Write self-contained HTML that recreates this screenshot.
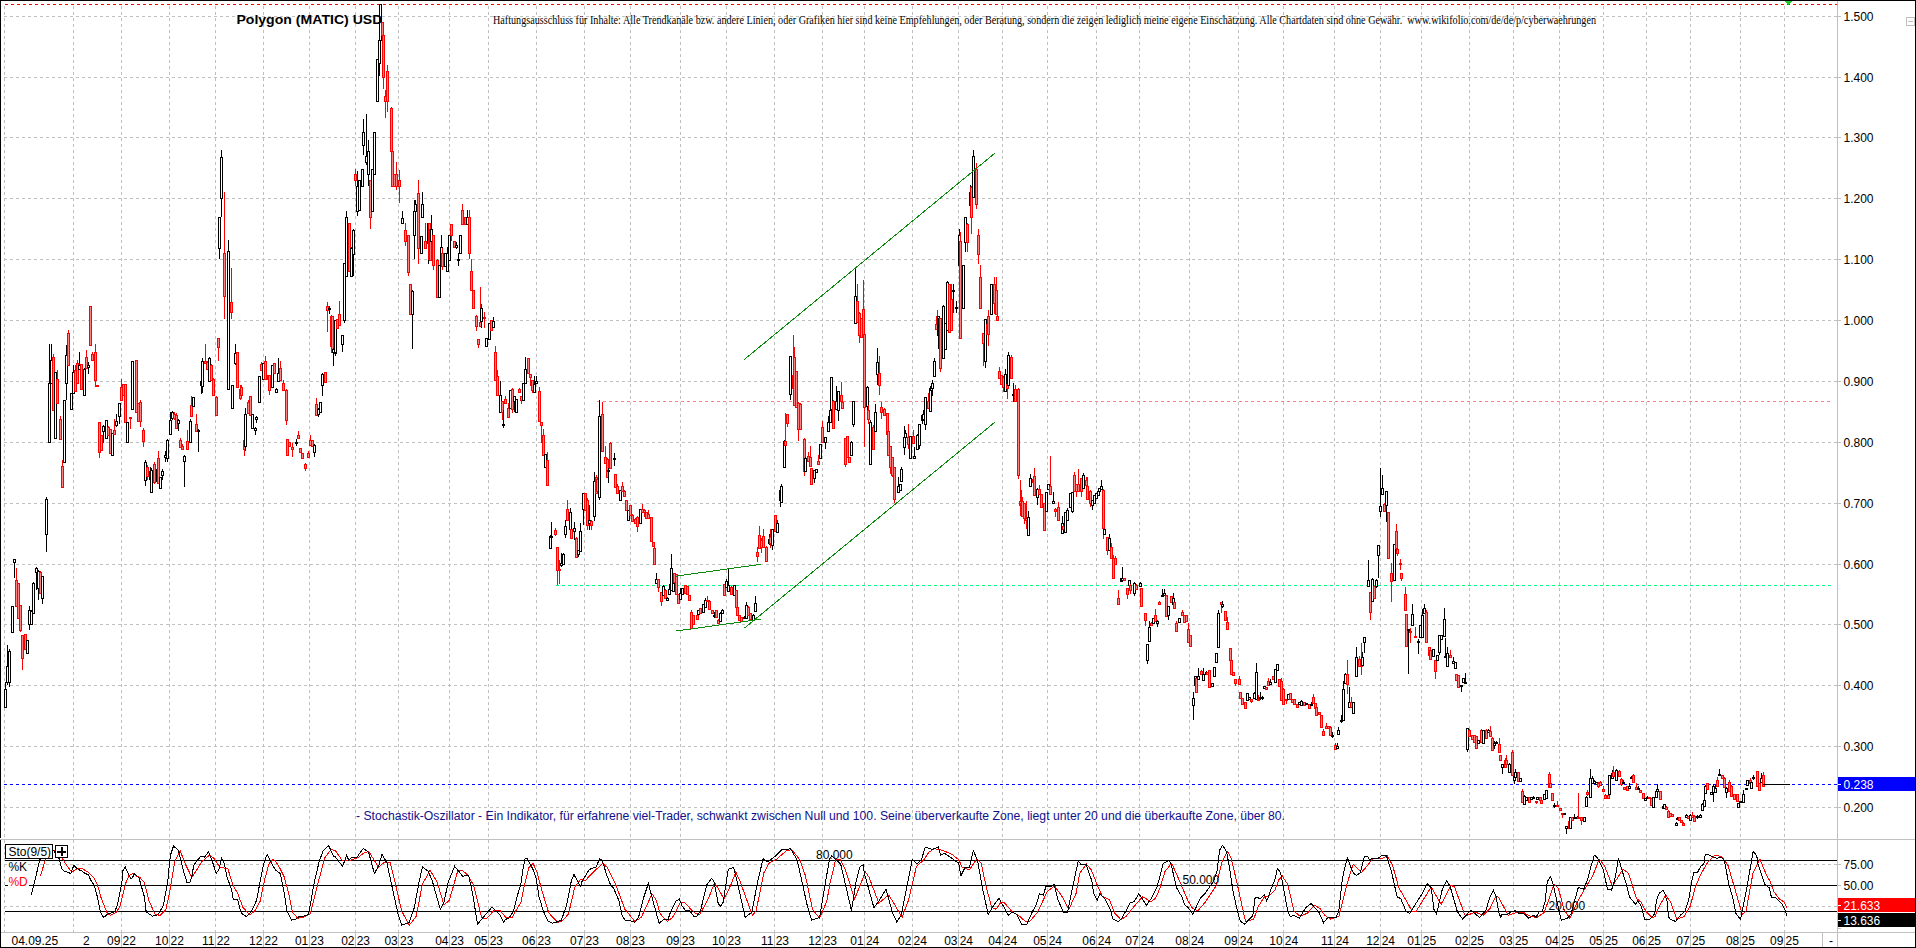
<!DOCTYPE html>
<html><head><meta charset="utf-8"><style>html,body{margin:0;padding:0;background:#fff;width:1916px;height:948px;overflow:hidden}svg{display:block}</style></head>
<body><svg width="1916" height="948" viewBox="0 0 1916 948" shape-rendering="crispEdges">
<path d="M4 16.5H1837 M4 77.5H1837 M4 137.5H1837 M4 198.5H1837 M4 259.5H1837 M4 320.5H1837 M4 381.5H1837 M4 442.5H1837 M4 503.5H1837 M4 564.5H1837 M4 624.5H1837 M4 685.5H1837 M4 746.5H1837 M4 807.5H1837" stroke="#c0c0c0" stroke-width="1" stroke-dasharray="3 3" fill="none"/>
<path d="M4.5 6V932 M73.5 6V932 M121.5 6V932 M169.5 6V932 M215.5 6V932 M263.5 6V932 M309.5 6V932 M355.5 6V932 M398.5 6V932 M449.5 6V932 M488.5 6V932 M536.5 6V932 M584.5 6V932 M630.5 6V932 M680.5 6V932 M726.5 6V932 M774.5 6V932 M822.5 6V932 M864.5 6V932 M912.5 6V932 M958.5 6V932 M1002.5 6V932 M1047.5 6V932 M1096.5 6V932 M1139.5 6V932 M1189.5 6V932 M1238.5 6V932 M1283.5 6V932 M1334.5 6V932 M1380.5 6V932 M1421.5 6V932 M1469.5 6V932 M1513.5 6V932 M1559.5 6V932 M1603.5 6V932 M1646.5 6V932 M1690.5 6V932 M1740.5 6V932 M1784.5 6V932" stroke="#c0c0c0" stroke-width="1" stroke-dasharray="3 3" fill="none"/>
<path d="M4 864.5H1837M4 906.5H1837" stroke="#c0c0c0" stroke-width="1" stroke-dasharray="3 3" fill="none"/>
<path d="M5 4.5H1837" stroke="#ff0000" stroke-width="1" stroke-dasharray="3 3" fill="none"/>
<path d="M597 401.5H1832" stroke="#ff8080" stroke-width="1" stroke-dasharray="3 3" fill="none"/>
<path d="M556 585.5H1832" stroke="#00ff80" stroke-width="1" stroke-dasharray="3 3" fill="none"/>
<path d="M4 784.5H1837" stroke="#0000ff" stroke-width="1" stroke-dasharray="3 3" fill="none"/>
<g><path d="M5.5 682V708" stroke="#000"/><rect x="4.5" y="689.5" width="2" height="18" fill="#fff" stroke="#000"/><path d="M7.5 645V685" stroke="#000"/><rect x="6.5" y="666.5" width="2" height="16" fill="#fff" stroke="#000"/><path d="M9.5 649V687" stroke="#000"/><rect x="8.5" y="651.5" width="2" height="31" fill="#fff" stroke="#000"/><path d="M12.5 606V632" stroke="#000"/><rect x="11.5" y="606.5" width="2" height="26" fill="#fff" stroke="#000"/><path d="M14.5 559V578" stroke="#000"/><rect x="13.5" y="559.5" width="2" height="3" fill="#fff" stroke="#000"/><path d="M16.5 568V607" stroke="#f00"/><rect x="15.5" y="580.5" width="2" height="26" fill="#ff8080" stroke="#f00"/><path d="M18.5 583V618" stroke="#f00"/><rect x="17.5" y="583.5" width="2" height="35" fill="#ff8080" stroke="#f00"/><path d="M20.5 605V632" stroke="#f00"/><rect x="19.5" y="605.5" width="2" height="25" fill="#ff8080" stroke="#f00"/><path d="M22.5 635V670" stroke="#f00"/><rect x="21.5" y="635.5" width="2" height="23" fill="#ff8080" stroke="#f00"/><path d="M25.5 634V649" stroke="#f00"/><rect x="24.5" y="634.5" width="2" height="15" fill="#ff8080" stroke="#f00"/><path d="M27.5 640V653" stroke="#000"/><rect x="26.5" y="640.5" width="2" height="13" fill="#fff" stroke="#000"/><path d="M29.5 606V630" stroke="#000"/><rect x="28.5" y="610.5" width="2" height="14" fill="#fff" stroke="#000"/><path d="M31.5 610V624" stroke="#000"/><rect x="30.5" y="611.5" width="2" height="13" fill="#fff" stroke="#000"/><path d="M33.5 582V613" stroke="#000"/><rect x="32.5" y="583.5" width="2" height="30" fill="#fff" stroke="#000"/><path d="M36.5 567V590" stroke="#000"/><rect x="35.5" y="568.5" width="2" height="4" fill="#fff" stroke="#000"/><path d="M38.5 570V600" stroke="#000"/><rect x="37.5" y="571.5" width="2" height="17" fill="#fff" stroke="#000"/><path d="M40.5 571V593" stroke="#f00"/><rect x="39.5" y="572.5" width="2" height="21" fill="#ff8080" stroke="#f00"/><path d="M42.5 576V604" stroke="#000"/><rect x="41.5" y="576.5" width="2" height="22" fill="#fff" stroke="#000"/><path d="M46.5 497V552" stroke="#000"/><rect x="45.5" y="499.5" width="2" height="35" fill="#fff" stroke="#000"/><path d="M49.5 344V442" stroke="#000"/><rect x="48.5" y="383.5" width="2" height="59" fill="#fff" stroke="#000"/><path d="M51.5 344V383" stroke="#000"/><rect x="50.5" y="360.5" width="2" height="23" fill="#fff" stroke="#000"/><path d="M53.5 354V410" stroke="#f00"/><rect x="52.5" y="357.5" width="2" height="53" fill="#ff8080" stroke="#f00"/><path d="M55.5 372V438" stroke="#000"/><rect x="54.5" y="372.5" width="2" height="66" fill="#fff" stroke="#000"/><path d="M57.5 370V403" stroke="#f00"/><rect x="56.5" y="379.5" width="2" height="24" fill="#ff8080" stroke="#f00"/><path d="M60.5 416V439" stroke="#f00"/><rect x="59.5" y="419.5" width="2" height="20" fill="#ff8080" stroke="#f00"/><path d="M62.5 460V487" stroke="#f00"/><rect x="61.5" y="466.5" width="2" height="21" fill="#ff8080" stroke="#f00"/><path d="M64.5 400V462" stroke="#000"/><rect x="63.5" y="400.5" width="2" height="62" fill="#fff" stroke="#000"/><path d="M66.5 345V400" stroke="#000"/><rect x="65.5" y="355.5" width="2" height="28" fill="#fff" stroke="#000"/><path d="M68.5 330V365" stroke="#f00"/><rect x="67.5" y="333.5" width="2" height="32" fill="#ff8080" stroke="#f00"/><path d="M71.5 393V409" stroke="#000"/><rect x="70.5" y="393.5" width="2" height="16" fill="#fff" stroke="#000"/><path d="M73.5 365V393" stroke="#000"/><rect x="72.5" y="372.5" width="2" height="21" fill="#fff" stroke="#000"/><path d="M75.5 365V391" stroke="#f00"/><rect x="74.5" y="370.5" width="2" height="21" fill="#ff8080" stroke="#f00"/><path d="M77.5 360V383" stroke="#f00"/><rect x="76.5" y="363.5" width="2" height="20" fill="#ff8080" stroke="#f00"/><path d="M79.5 352V370" stroke="#000"/><rect x="78.5" y="365.5" width="2" height="4" fill="#fff" stroke="#000"/><path d="M81.5 364V389" stroke="#f00"/><rect x="80.5" y="364.5" width="2" height="25" fill="#ff8080" stroke="#f00"/><path d="M84.5 368V395" stroke="#000"/><rect x="83.5" y="369.5" width="2" height="26" fill="#fff" stroke="#000"/><path d="M86.5 350V368" stroke="#f00"/><rect x="85.5" y="357.5" width="2" height="11" fill="#ff8080" stroke="#f00"/><path d="M88.5 362V374" stroke="#000"/><rect x="87.5" y="365.5" width="2" height="2" fill="#fff" stroke="#000"/><path d="M90.5 306V345" stroke="#f00"/><rect x="89.5" y="306.5" width="2" height="39" fill="#ff8080" stroke="#f00"/><path d="M92.5 352V360" stroke="#f00"/><rect x="91.5" y="354.5" width="2" height="6" fill="#ff8080" stroke="#f00"/><path d="M95.5 344V387" stroke="#f00"/><rect x="94.5" y="352.5" width="2" height="28" fill="#ff8080" stroke="#f00"/><path d="M97.5 385V386" stroke="#f00"/><rect x="96.5" y="385.5" width="2" height="1" fill="#ff8080" stroke="#f00"/><path d="M99.5 422V458" stroke="#f00"/><rect x="98.5" y="422.5" width="2" height="30" fill="#ff8080" stroke="#f00"/><path d="M101.5 435V450" stroke="#f00"/><rect x="100.5" y="435.5" width="2" height="15" fill="#ff8080" stroke="#f00"/><path d="M103.5 425V443" stroke="#000"/><rect x="102.5" y="426.5" width="2" height="5" fill="#fff" stroke="#000"/><path d="M106.5 420V438" stroke="#000"/><rect x="105.5" y="420.5" width="2" height="18" fill="#fff" stroke="#000"/><path d="M108.5 426V435" stroke="#f00"/><rect x="107.5" y="427.5" width="2" height="8" fill="#ff8080" stroke="#f00"/><path d="M110.5 429V453" stroke="#f00"/><rect x="109.5" y="429.5" width="2" height="24" fill="#ff8080" stroke="#f00"/><path d="M112.5 433V455" stroke="#000"/><rect x="111.5" y="433.5" width="2" height="22" fill="#fff" stroke="#000"/><path d="M114.5 419V435" stroke="#f00"/><rect x="113.5" y="430.5" width="2" height="4" fill="#ff8080" stroke="#f00"/><path d="M116.5 414V427" stroke="#000"/><rect x="115.5" y="421.5" width="2" height="4" fill="#fff" stroke="#000"/><path d="M119.5 403V424" stroke="#000"/><rect x="118.5" y="403.5" width="2" height="13" fill="#fff" stroke="#000"/><path d="M121.5 379V400" stroke="#f00"/><rect x="120.5" y="387.5" width="2" height="13" fill="#ff8080" stroke="#f00"/><path d="M123.5 384V395" stroke="#f00"/><rect x="122.5" y="384.5" width="2" height="11" fill="#ff8080" stroke="#f00"/><path d="M125.5 384V422" stroke="#f00"/><rect x="124.5" y="384.5" width="2" height="38" fill="#ff8080" stroke="#f00"/><path d="M127.5 422V442" stroke="#000"/><rect x="126.5" y="422.5" width="2" height="20" fill="#fff" stroke="#000"/><path d="M130.5 417V429" stroke="#f00"/><rect x="129.5" y="417.5" width="2" height="1" fill="#ff8080" stroke="#f00"/><path d="M132.5 361V409" stroke="#000"/><rect x="131.5" y="361.5" width="2" height="48" fill="#fff" stroke="#000"/><path d="M136.5 360V412" stroke="#f00"/><rect x="135.5" y="360.5" width="2" height="52" fill="#ff8080" stroke="#f00"/><path d="M138.5 403V421" stroke="#f00"/><rect x="137.5" y="403.5" width="2" height="18" fill="#ff8080" stroke="#f00"/><path d="M140.5 400V427" stroke="#f00"/><rect x="139.5" y="402.5" width="2" height="19" fill="#ff8080" stroke="#f00"/><path d="M143.5 428V447" stroke="#f00"/><rect x="142.5" y="430.5" width="2" height="11" fill="#ff8080" stroke="#f00"/><path d="M145.5 460V486" stroke="#000"/><rect x="144.5" y="462.5" width="2" height="18" fill="#fff" stroke="#000"/><path d="M147.5 465V480" stroke="#f00"/><rect x="146.5" y="467.5" width="2" height="9" fill="#ff8080" stroke="#f00"/><path d="M150.5 467V483" stroke="#000"/><rect x="149.5" y="471.5" width="2" height="8" fill="#fff" stroke="#000"/><path d="M151.5 468V492" stroke="#000"/><rect x="150.5" y="470.5" width="2" height="22" fill="#fff" stroke="#000"/><path d="M154.5 462V484" stroke="#f00"/><rect x="153.5" y="464.5" width="2" height="18" fill="#ff8080" stroke="#f00"/><path d="M157.5 467V484" stroke="#000"/><rect x="156.5" y="469.5" width="2" height="12" fill="#fff" stroke="#000"/><path d="M158.5 451V483" stroke="#f00"/><rect x="157.5" y="458.5" width="2" height="25" fill="#ff8080" stroke="#f00"/><path d="M160.5 477V488" stroke="#000"/><rect x="159.5" y="477.5" width="2" height="11" fill="#fff" stroke="#000"/><path d="M162.5 469V480" stroke="#000"/><rect x="161.5" y="471.5" width="2" height="4" fill="#fff" stroke="#000"/><path d="M165.5 451V462" stroke="#000"/><rect x="164.5" y="455.5" width="2" height="2" fill="#fff" stroke="#000"/><path d="M167.5 439V462" stroke="#000"/><rect x="166.5" y="440.5" width="2" height="18" fill="#fff" stroke="#000"/><path d="M170.5 412V435" stroke="#000"/><rect x="169.5" y="420.5" width="2" height="14" fill="#fff" stroke="#000"/><path d="M172.5 411V420" stroke="#000"/><rect x="171.5" y="412.5" width="2" height="6" fill="#fff" stroke="#000"/><path d="M174.5 412V420" stroke="#f00"/><rect x="173.5" y="414.5" width="2" height="4" fill="#ff8080" stroke="#f00"/><path d="M176.5 413V428" stroke="#f00"/><rect x="175.5" y="415.5" width="2" height="13" fill="#ff8080" stroke="#f00"/><path d="M178.5 419V431" stroke="#000"/><rect x="177.5" y="420.5" width="2" height="3" fill="#fff" stroke="#000"/><path d="M180.5 438V448" stroke="#f00"/><rect x="179.5" y="440.5" width="2" height="7" fill="#ff8080" stroke="#f00"/><path d="M182.5 444V449" stroke="#f00"/><rect x="181.5" y="446.5" width="2" height="3" fill="#ff8080" stroke="#f00"/><path d="M184.5 455V487" stroke="#000"/><rect x="183.5" y="456.5" width="2" height="5" fill="#fff" stroke="#000"/><path d="M187.5 430V449" stroke="#f00"/><rect x="186.5" y="441.5" width="2" height="8" fill="#ff8080" stroke="#f00"/><path d="M190.5 419V442" stroke="#000"/><rect x="189.5" y="421.5" width="2" height="21" fill="#fff" stroke="#000"/><path d="M191.5 396V416" stroke="#f00"/><rect x="190.5" y="405.5" width="2" height="11" fill="#ff8080" stroke="#f00"/><path d="M193.5 397V406" stroke="#000"/><rect x="192.5" y="397.5" width="2" height="9" fill="#fff" stroke="#000"/><path d="M196.5 414V431" stroke="#f00"/><rect x="195.5" y="424.5" width="2" height="7" fill="#ff8080" stroke="#f00"/><path d="M198.5 429V452" stroke="#000"/><rect x="197.5" y="430.5" width="2" height="1" fill="#fff" stroke="#000"/><path d="M201.5 380V394" stroke="#000"/><rect x="200.5" y="381.5" width="2" height="4" fill="#fff" stroke="#000"/><path d="M202.5 358V393" stroke="#000"/><rect x="201.5" y="361.5" width="2" height="25" fill="#fff" stroke="#000"/><path d="M205.5 344V363" stroke="#f00"/><rect x="204.5" y="361.5" width="2" height="2" fill="#ff8080" stroke="#f00"/><path d="M207.5 361V369" stroke="#f00"/><rect x="206.5" y="362.5" width="2" height="7" fill="#ff8080" stroke="#f00"/><path d="M209.5 357V381" stroke="#000"/><rect x="208.5" y="358.5" width="2" height="23" fill="#fff" stroke="#000"/><path d="M211.5 364V380" stroke="#f00"/><rect x="210.5" y="365.5" width="2" height="15" fill="#ff8080" stroke="#f00"/><path d="M213.5 378V395" stroke="#f00"/><rect x="212.5" y="379.5" width="2" height="16" fill="#ff8080" stroke="#f00"/><path d="M216.5 396V415" stroke="#f00"/><rect x="215.5" y="397.5" width="2" height="18" fill="#ff8080" stroke="#f00"/><path d="M218.5 338V361" stroke="#f00"/><rect x="217.5" y="338.5" width="2" height="9" fill="#ff8080" stroke="#f00"/><path d="M219.5 217V259" stroke="#000"/><rect x="218.5" y="217.5" width="2" height="31" fill="#fff" stroke="#000"/><path d="M221.5 150V217" stroke="#000"/><rect x="220.5" y="157.5" width="2" height="41" fill="#fff" stroke="#000"/><path d="M224.5 192V319" stroke="#f00"/><rect x="223.5" y="253.5" width="2" height="43" fill="#ff8080" stroke="#f00"/><path d="M228.5 240V389" stroke="#000"/><rect x="227.5" y="251.5" width="2" height="138" fill="#fff" stroke="#000"/><path d="M231.5 268V319" stroke="#f00"/><rect x="230.5" y="302.5" width="2" height="10" fill="#ff8080" stroke="#f00"/><path d="M232.5 385V408" stroke="#000"/><rect x="231.5" y="385.5" width="2" height="23" fill="#fff" stroke="#000"/><path d="M235.5 344V365" stroke="#000"/><rect x="234.5" y="353.5" width="2" height="10" fill="#fff" stroke="#000"/><path d="M237.5 352V387" stroke="#f00"/><rect x="236.5" y="352.5" width="2" height="35" fill="#ff8080" stroke="#f00"/><path d="M240.5 385V400" stroke="#f00"/><rect x="239.5" y="389.5" width="2" height="9" fill="#ff8080" stroke="#f00"/><path d="M241.5 385V395" stroke="#f00"/><rect x="240.5" y="387.5" width="2" height="8" fill="#ff8080" stroke="#f00"/><path d="M244.5 434V456" stroke="#f00"/><rect x="243.5" y="440.5" width="2" height="9" fill="#ff8080" stroke="#f00"/><path d="M245.5 408V451" stroke="#000"/><rect x="244.5" y="414.5" width="2" height="32" fill="#fff" stroke="#000"/><path d="M248.5 400V413" stroke="#f00"/><rect x="247.5" y="402.5" width="2" height="11" fill="#ff8080" stroke="#f00"/><path d="M250.5 396V415" stroke="#f00"/><rect x="249.5" y="396.5" width="2" height="19" fill="#ff8080" stroke="#f00"/><path d="M252.5 414V428" stroke="#000"/><rect x="251.5" y="414.5" width="2" height="14" fill="#fff" stroke="#000"/><path d="M255.5 427V435" stroke="#000"/><rect x="254.5" y="428.5" width="2" height="2" fill="#fff" stroke="#000"/><path d="M256.5 416V423" stroke="#000"/><rect x="255.5" y="417.5" width="2" height="2" fill="#fff" stroke="#000"/><path d="M259.5 376V402" stroke="#000"/><rect x="258.5" y="376.5" width="2" height="26" fill="#fff" stroke="#000"/><path d="M261.5 362V370" stroke="#f00"/><rect x="260.5" y="364.5" width="2" height="6" fill="#ff8080" stroke="#f00"/><path d="M263.5 363V379" stroke="#000"/><rect x="262.5" y="363.5" width="2" height="16" fill="#fff" stroke="#000"/><path d="M265.5 356V379" stroke="#f00"/><rect x="264.5" y="361.5" width="2" height="18" fill="#ff8080" stroke="#f00"/><path d="M268.5 375V379" stroke="#f00"/><rect x="267.5" y="375.5" width="2" height="4" fill="#ff8080" stroke="#f00"/><path d="M269.5 375V395" stroke="#f00"/><rect x="268.5" y="375.5" width="2" height="15" fill="#ff8080" stroke="#f00"/><path d="M272.5 365V387" stroke="#000"/><rect x="271.5" y="365.5" width="2" height="22" fill="#fff" stroke="#000"/><path d="M274.5 363V373" stroke="#f00"/><rect x="273.5" y="363.5" width="2" height="10" fill="#ff8080" stroke="#f00"/><path d="M276.5 388V392" stroke="#000"/><rect x="275.5" y="389.5" width="2" height="3" fill="#fff" stroke="#000"/><path d="M278.5 358V381" stroke="#000"/><rect x="277.5" y="373.5" width="2" height="8" fill="#fff" stroke="#000"/><path d="M280.5 361V380" stroke="#f00"/><rect x="279.5" y="368.5" width="2" height="12" fill="#ff8080" stroke="#f00"/><path d="M283.5 380V390" stroke="#f00"/><rect x="282.5" y="383.5" width="2" height="7" fill="#ff8080" stroke="#f00"/><path d="M286.5 389V425" stroke="#f00"/><rect x="285.5" y="390.5" width="2" height="30" fill="#ff8080" stroke="#f00"/><path d="M287.5 439V455" stroke="#f00"/><rect x="286.5" y="439.5" width="2" height="16" fill="#ff8080" stroke="#f00"/><path d="M289.5 442V446" stroke="#f00"/><rect x="288.5" y="442.5" width="2" height="4" fill="#ff8080" stroke="#f00"/><path d="M292.5 443V457" stroke="#f00"/><rect x="291.5" y="447.5" width="2" height="2" fill="#ff8080" stroke="#f00"/><path d="M296.5 439V446" stroke="#000"/><rect x="295.5" y="442.5" width="2" height="1" fill="#fff" stroke="#000"/><path d="M298.5 431V438" stroke="#f00"/><rect x="297.5" y="435.5" width="2" height="3" fill="#ff8080" stroke="#f00"/><path d="M300.5 448V452" stroke="#f00"/><rect x="299.5" y="448.5" width="2" height="4" fill="#ff8080" stroke="#f00"/><path d="M302.5 453V458" stroke="#f00"/><rect x="301.5" y="453.5" width="2" height="5" fill="#ff8080" stroke="#f00"/><path d="M305.5 463V471" stroke="#f00"/><rect x="304.5" y="464.5" width="2" height="4" fill="#ff8080" stroke="#f00"/><path d="M308.5 451V457" stroke="#f00"/><rect x="307.5" y="453.5" width="2" height="4" fill="#ff8080" stroke="#f00"/><path d="M310.5 435V445" stroke="#f00"/><rect x="309.5" y="440.5" width="2" height="5" fill="#ff8080" stroke="#f00"/><path d="M312.5 440V446" stroke="#f00"/><rect x="311.5" y="440.5" width="2" height="6" fill="#ff8080" stroke="#f00"/><path d="M314.5 444V457" stroke="#000"/><rect x="313.5" y="445.5" width="2" height="7" fill="#fff" stroke="#000"/><path d="M316.5 398V415" stroke="#f00"/><rect x="315.5" y="404.5" width="2" height="11" fill="#ff8080" stroke="#f00"/><path d="M318.5 408V417" stroke="#000"/><rect x="317.5" y="409.5" width="2" height="5" fill="#fff" stroke="#000"/><path d="M320.5 402V412" stroke="#000"/><rect x="319.5" y="402.5" width="2" height="10" fill="#fff" stroke="#000"/><path d="M322.5 373V396" stroke="#000"/><rect x="321.5" y="374.5" width="2" height="11" fill="#fff" stroke="#000"/><path d="M325.5 372V382" stroke="#f00"/><rect x="324.5" y="372.5" width="2" height="10" fill="#ff8080" stroke="#f00"/><path d="M327.5 302V332" stroke="#f00"/><rect x="326.5" y="306.5" width="2" height="4" fill="#ff8080" stroke="#f00"/><path d="M329.5 306V314" stroke="#000"/><rect x="328.5" y="308.5" width="2" height="1" fill="#fff" stroke="#000"/><path d="M331.5 315V346" stroke="#f00"/><rect x="330.5" y="316.5" width="2" height="30" fill="#ff8080" stroke="#f00"/><path d="M332.5 316V352" stroke="#f00"/><rect x="331.5" y="316.5" width="2" height="36" fill="#ff8080" stroke="#f00"/><path d="M333.5 349V365" stroke="#000"/><rect x="332.5" y="350.5" width="2" height="2" fill="#fff" stroke="#000"/><path d="M333.5 348V366" stroke="#000"/><rect x="332.5" y="349.5" width="2" height="3" fill="#fff" stroke="#000"/><path d="M335.5 320V353" stroke="#000"/><rect x="334.5" y="320.5" width="2" height="33" fill="#fff" stroke="#000"/><path d="M335.5 320V356" stroke="#000"/><rect x="334.5" y="320.5" width="2" height="32" fill="#fff" stroke="#000"/><path d="M337.5 319V328" stroke="#f00"/><rect x="336.5" y="319.5" width="2" height="9" fill="#ff8080" stroke="#f00"/><path d="M339.5 301V325" stroke="#f00"/><rect x="338.5" y="314.5" width="2" height="11" fill="#ff8080" stroke="#f00"/><path d="M342.5 335V352" stroke="#000"/><rect x="341.5" y="335.5" width="2" height="9" fill="#fff" stroke="#000"/><path d="M344.5 263V323" stroke="#000"/><rect x="343.5" y="263.5" width="2" height="57" fill="#fff" stroke="#000"/><path d="M346.5 211V276" stroke="#000"/><rect x="345.5" y="217.5" width="2" height="59" fill="#fff" stroke="#000"/><path d="M349.5 223V271" stroke="#f00"/><rect x="348.5" y="223.5" width="2" height="48" fill="#ff8080" stroke="#f00"/><path d="M351.5 247V276" stroke="#000"/><rect x="350.5" y="248.5" width="2" height="28" fill="#fff" stroke="#000"/><path d="M353.5 229V276" stroke="#000"/><rect x="352.5" y="230.5" width="2" height="24" fill="#fff" stroke="#000"/><path d="M355.5 169V186" stroke="#f00"/><rect x="354.5" y="174.5" width="2" height="6" fill="#ff8080" stroke="#f00"/><path d="M357.5 171V216" stroke="#000"/><rect x="356.5" y="186.5" width="2" height="25" fill="#fff" stroke="#000"/><path d="M359.5 180V210" stroke="#000"/><rect x="358.5" y="180.5" width="2" height="30" fill="#fff" stroke="#000"/><path d="M362.5 169V186" stroke="#000"/><rect x="361.5" y="169.5" width="2" height="17" fill="#fff" stroke="#000"/><path d="M363.5 119V155" stroke="#000"/><rect x="362.5" y="132.5" width="2" height="13" fill="#fff" stroke="#000"/><path d="M366.5 114V165" stroke="#000"/><rect x="365.5" y="156.5" width="2" height="6" fill="#fff" stroke="#000"/><path d="M368.5 140V186" stroke="#000"/><rect x="367.5" y="151.5" width="2" height="23" fill="#fff" stroke="#000"/><path d="M370.5 180V229" stroke="#f00"/><rect x="369.5" y="180.5" width="2" height="37" fill="#ff8080" stroke="#f00"/><path d="M372.5 169V211" stroke="#000"/><rect x="371.5" y="169.5" width="2" height="42" fill="#fff" stroke="#000"/><path d="M374.5 132V174" stroke="#000"/><rect x="373.5" y="132.5" width="2" height="42" fill="#fff" stroke="#000"/><path d="M377.5 59V101" stroke="#000"/><rect x="376.5" y="59.5" width="2" height="42" fill="#fff" stroke="#000"/><path d="M379.5 4V76" stroke="#000"/><rect x="378.5" y="40.5" width="2" height="23" fill="#fff" stroke="#000"/><path d="M380.5 4V40" stroke="#000"/><rect x="379.5" y="4.5" width="2" height="36" fill="#fff" stroke="#000"/><path d="M382.5 22V35" stroke="#f00"/><rect x="381.5" y="22.5" width="2" height="13" fill="#ff8080" stroke="#f00"/><path d="M383.5 35V89" stroke="#f00"/><rect x="382.5" y="35.5" width="2" height="42" fill="#ff8080" stroke="#f00"/><path d="M385.5 90V118" stroke="#f00"/><rect x="384.5" y="96.5" width="2" height="5" fill="#ff8080" stroke="#f00"/><path d="M387.5 65V112" stroke="#f00"/><rect x="386.5" y="71.5" width="2" height="30" fill="#ff8080" stroke="#f00"/><path d="M391.5 107V151" stroke="#f00"/><rect x="390.5" y="108.5" width="2" height="43" fill="#ff8080" stroke="#f00"/><path d="M392.5 151V186" stroke="#f00"/><rect x="391.5" y="151.5" width="2" height="35" fill="#ff8080" stroke="#f00"/><path d="M394.5 174V186" stroke="#f00"/><rect x="393.5" y="174.5" width="2" height="12" fill="#ff8080" stroke="#f00"/><path d="M396.5 162V190" stroke="#f00"/><rect x="395.5" y="174.5" width="2" height="12" fill="#ff8080" stroke="#f00"/><path d="M399.5 170V203" stroke="#f00"/><rect x="398.5" y="180.5" width="2" height="6" fill="#ff8080" stroke="#f00"/><path d="M402.5 211V223" stroke="#000"/><rect x="401.5" y="218.5" width="2" height="5" fill="#fff" stroke="#000"/><path d="M405.5 223V246" stroke="#f00"/><rect x="404.5" y="230.5" width="2" height="11" fill="#ff8080" stroke="#f00"/><path d="M408.5 235V276" stroke="#f00"/><rect x="407.5" y="235.5" width="2" height="37" fill="#ff8080" stroke="#f00"/><path d="M410.5 284V314" stroke="#f00"/><rect x="409.5" y="284.5" width="2" height="30" fill="#ff8080" stroke="#f00"/><path d="M412.5 290V349" stroke="#000"/><rect x="411.5" y="291.5" width="2" height="23" fill="#fff" stroke="#000"/><path d="M414.5 200V259" stroke="#000"/><rect x="413.5" y="211.5" width="2" height="24" fill="#fff" stroke="#000"/><path d="M415.5 200V211" stroke="#000"/><rect x="414.5" y="204.5" width="2" height="7" fill="#fff" stroke="#000"/><path d="M418.5 180V264" stroke="#f00"/><rect x="417.5" y="193.5" width="2" height="55" fill="#ff8080" stroke="#f00"/><path d="M421.5 236V253" stroke="#000"/><rect x="420.5" y="236.5" width="2" height="17" fill="#fff" stroke="#000"/><path d="M422.5 192V217" stroke="#000"/><rect x="421.5" y="204.5" width="2" height="13" fill="#fff" stroke="#000"/><path d="M425.5 223V248" stroke="#f00"/><rect x="424.5" y="241.5" width="2" height="7" fill="#ff8080" stroke="#f00"/><path d="M428.5 223V264" stroke="#000"/><rect x="427.5" y="223.5" width="2" height="20" fill="#fff" stroke="#000"/><path d="M429.5 223V259" stroke="#f00"/><rect x="428.5" y="223.5" width="2" height="36" fill="#ff8080" stroke="#f00"/><path d="M430.5 223V260" stroke="#f00"/><rect x="429.5" y="229.5" width="2" height="31" fill="#ff8080" stroke="#f00"/><path d="M431.5 215V241" stroke="#000"/><rect x="430.5" y="229.5" width="2" height="12" fill="#fff" stroke="#000"/><path d="M433.5 235V270" stroke="#f00"/><rect x="432.5" y="235.5" width="2" height="30" fill="#ff8080" stroke="#f00"/><path d="M437.5 259V297" stroke="#f00"/><rect x="436.5" y="260.5" width="2" height="37" fill="#ff8080" stroke="#f00"/><path d="M439.5 265V297" stroke="#000"/><rect x="438.5" y="265.5" width="2" height="32" fill="#fff" stroke="#000"/><path d="M441.5 235V265" stroke="#000"/><rect x="440.5" y="247.5" width="2" height="18" fill="#fff" stroke="#000"/><path d="M442.5 248V270" stroke="#f00"/><rect x="441.5" y="253.5" width="2" height="13" fill="#ff8080" stroke="#f00"/><path d="M445.5 253V266" stroke="#000"/><rect x="444.5" y="253.5" width="2" height="13" fill="#fff" stroke="#000"/><path d="M447.5 247V271" stroke="#000"/><rect x="446.5" y="253.5" width="2" height="18" fill="#fff" stroke="#000"/><path d="M449.5 235V260" stroke="#000"/><rect x="448.5" y="235.5" width="2" height="25" fill="#fff" stroke="#000"/><path d="M451.5 224V241" stroke="#f00"/><rect x="450.5" y="224.5" width="2" height="11" fill="#ff8080" stroke="#f00"/><path d="M454.5 241V247" stroke="#f00"/><rect x="453.5" y="241.5" width="2" height="6" fill="#ff8080" stroke="#f00"/><path d="M456.5 242V249" stroke="#000"/><rect x="455.5" y="245.5" width="2" height="2" fill="#fff" stroke="#000"/><path d="M458.5 253V266" stroke="#000"/><rect x="457.5" y="259.5" width="2" height="1" fill="#fff" stroke="#000"/><path d="M460.5 235V253" stroke="#000"/><rect x="459.5" y="235.5" width="2" height="18" fill="#fff" stroke="#000"/><path d="M462.5 204V224" stroke="#f00"/><rect x="461.5" y="210.5" width="2" height="14" fill="#ff8080" stroke="#f00"/><path d="M465.5 217V224" stroke="#f00"/><rect x="464.5" y="217.5" width="2" height="7" fill="#ff8080" stroke="#f00"/><path d="M467.5 210V224" stroke="#000"/><rect x="466.5" y="217.5" width="2" height="7" fill="#fff" stroke="#000"/><path d="M469.5 210V259" stroke="#f00"/><rect x="468.5" y="217.5" width="2" height="36" fill="#ff8080" stroke="#f00"/><path d="M471.5 259V290" stroke="#f00"/><rect x="470.5" y="271.5" width="2" height="19" fill="#ff8080" stroke="#f00"/><path d="M473.5 290V308" stroke="#f00"/><rect x="472.5" y="290.5" width="2" height="18" fill="#ff8080" stroke="#f00"/><path d="M476.5 315V331" stroke="#f00"/><rect x="475.5" y="316.5" width="2" height="10" fill="#ff8080" stroke="#f00"/><path d="M478.5 339V348" stroke="#f00"/><rect x="477.5" y="339.5" width="2" height="5" fill="#ff8080" stroke="#f00"/><path d="M480.5 287V326" stroke="#f00"/><rect x="479.5" y="322.5" width="2" height="4" fill="#ff8080" stroke="#f00"/><path d="M481.5 304V328" stroke="#000"/><rect x="480.5" y="308.5" width="2" height="13" fill="#fff" stroke="#000"/><path d="M484.5 312V328" stroke="#f00"/><rect x="483.5" y="317.5" width="2" height="1" fill="#ff8080" stroke="#f00"/><path d="M486.5 338V346" stroke="#000"/><rect x="485.5" y="338.5" width="2" height="8" fill="#fff" stroke="#000"/><path d="M489.5 323V339" stroke="#000"/><rect x="488.5" y="323.5" width="2" height="16" fill="#fff" stroke="#000"/><path d="M491.5 320V330" stroke="#f00"/><rect x="490.5" y="320.5" width="2" height="10" fill="#ff8080" stroke="#f00"/><path d="M493.5 317V327" stroke="#000"/><rect x="492.5" y="321.5" width="2" height="6" fill="#fff" stroke="#000"/><path d="M495.5 346V380" stroke="#f00"/><rect x="494.5" y="352.5" width="2" height="28" fill="#ff8080" stroke="#f00"/><path d="M497.5 370V395" stroke="#f00"/><rect x="496.5" y="376.5" width="2" height="19" fill="#ff8080" stroke="#f00"/><path d="M500.5 381V412" stroke="#000"/><rect x="499.5" y="395.5" width="2" height="17" fill="#fff" stroke="#000"/><path d="M502.5 401V420" stroke="#f00"/><rect x="501.5" y="401.5" width="2" height="11" fill="#ff8080" stroke="#f00"/><path d="M503.5 410V428" stroke="#000"/><rect x="502.5" y="424.5" width="2" height="1" fill="#fff" stroke="#000"/><path d="M505.5 396V403" stroke="#f00"/><rect x="504.5" y="399.5" width="2" height="4" fill="#ff8080" stroke="#f00"/><path d="M508.5 403V417" stroke="#f00"/><rect x="507.5" y="408.5" width="2" height="9" fill="#ff8080" stroke="#f00"/><path d="M510.5 390V408" stroke="#000"/><rect x="509.5" y="390.5" width="2" height="18" fill="#fff" stroke="#000"/><path d="M512.5 388V413" stroke="#f00"/><rect x="511.5" y="389.5" width="2" height="20" fill="#ff8080" stroke="#f00"/><path d="M514.5 396V412" stroke="#000"/><rect x="513.5" y="396.5" width="2" height="5" fill="#fff" stroke="#000"/><path d="M516.5 399V412" stroke="#000"/><rect x="515.5" y="399.5" width="2" height="13" fill="#fff" stroke="#000"/><path d="M519.5 388V392" stroke="#f00"/><rect x="518.5" y="389.5" width="2" height="3" fill="#ff8080" stroke="#f00"/><path d="M521.5 396V404" stroke="#f00"/><rect x="520.5" y="396.5" width="2" height="4" fill="#ff8080" stroke="#f00"/><path d="M523.5 383V400" stroke="#000"/><rect x="522.5" y="383.5" width="2" height="17" fill="#fff" stroke="#000"/><path d="M525.5 357V383" stroke="#000"/><rect x="524.5" y="369.5" width="2" height="14" fill="#fff" stroke="#000"/><path d="M528.5 358V373" stroke="#f00"/><rect x="527.5" y="358.5" width="2" height="15" fill="#ff8080" stroke="#f00"/><path d="M530.5 374V386" stroke="#f00"/><rect x="529.5" y="374.5" width="2" height="3" fill="#ff8080" stroke="#f00"/><path d="M532.5 380V393" stroke="#f00"/><rect x="531.5" y="380.5" width="2" height="10" fill="#ff8080" stroke="#f00"/><path d="M534.5 376V392" stroke="#000"/><rect x="533.5" y="384.5" width="2" height="8" fill="#fff" stroke="#000"/><path d="M536.5 376V384" stroke="#000"/><rect x="535.5" y="381.5" width="2" height="2" fill="#fff" stroke="#000"/><path d="M539.5 387V421" stroke="#f00"/><rect x="538.5" y="391.5" width="2" height="30" fill="#ff8080" stroke="#f00"/><path d="M541.5 422V443" stroke="#f00"/><rect x="540.5" y="422.5" width="2" height="3" fill="#ff8080" stroke="#f00"/><path d="M543.5 429V455" stroke="#f00"/><rect x="542.5" y="435.5" width="2" height="20" fill="#ff8080" stroke="#f00"/><path d="M545.5 454V467" stroke="#000"/><rect x="544.5" y="454.5" width="2" height="13" fill="#fff" stroke="#000"/><path d="M547.5 452V485" stroke="#f00"/><rect x="546.5" y="460.5" width="2" height="25" fill="#ff8080" stroke="#f00"/><path d="M550.5 535V548" stroke="#000"/><rect x="549.5" y="536.5" width="2" height="12" fill="#fff" stroke="#000"/><path d="M551.5 522V537" stroke="#000"/><rect x="550.5" y="536.5" width="2" height="1" fill="#fff" stroke="#000"/><path d="M555.5 528V536" stroke="#f00"/><rect x="554.5" y="530.5" width="2" height="4" fill="#ff8080" stroke="#f00"/><path d="M557.5 547V585" stroke="#f00"/><rect x="556.5" y="547.5" width="2" height="23" fill="#ff8080" stroke="#f00"/><path d="M559.5 560V584" stroke="#f00"/><rect x="558.5" y="569.5" width="2" height="1" fill="#ff8080" stroke="#f00"/><path d="M561.5 553V567" stroke="#000"/><rect x="560.5" y="563.5" width="2" height="2" fill="#fff" stroke="#000"/><path d="M563.5 553V564" stroke="#000"/><rect x="562.5" y="554.5" width="2" height="10" fill="#fff" stroke="#000"/><path d="M565.5 520V538" stroke="#000"/><rect x="564.5" y="526.5" width="2" height="8" fill="#fff" stroke="#000"/><path d="M567.5 500V520" stroke="#f00"/><rect x="566.5" y="509.5" width="2" height="11" fill="#ff8080" stroke="#f00"/><path d="M570.5 508V529" stroke="#000"/><rect x="569.5" y="512.5" width="2" height="17" fill="#fff" stroke="#000"/><path d="M571.5 529V538" stroke="#f00"/><rect x="570.5" y="529.5" width="2" height="9" fill="#ff8080" stroke="#f00"/><path d="M574.5 522V540" stroke="#000"/><rect x="573.5" y="528.5" width="2" height="3" fill="#fff" stroke="#000"/><path d="M576.5 537V557" stroke="#f00"/><rect x="575.5" y="538.5" width="2" height="19" fill="#ff8080" stroke="#f00"/><path d="M578.5 550V557" stroke="#000"/><rect x="577.5" y="550.5" width="2" height="4" fill="#fff" stroke="#000"/><path d="M580.5 523V551" stroke="#000"/><rect x="579.5" y="531.5" width="2" height="20" fill="#fff" stroke="#000"/><path d="M583.5 493V525" stroke="#000"/><rect x="582.5" y="493.5" width="2" height="16" fill="#fff" stroke="#000"/><path d="M585.5 493V510" stroke="#f00"/><rect x="584.5" y="493.5" width="2" height="17" fill="#ff8080" stroke="#f00"/><path d="M587.5 498V530" stroke="#f00"/><rect x="586.5" y="500.5" width="2" height="25" fill="#ff8080" stroke="#f00"/><path d="M589.5 505V530" stroke="#000"/><rect x="588.5" y="520.5" width="2" height="3" fill="#fff" stroke="#000"/><path d="M591.5 520V530" stroke="#f00"/><rect x="590.5" y="521.5" width="2" height="4" fill="#ff8080" stroke="#f00"/><path d="M594.5 472V521" stroke="#000"/><rect x="593.5" y="481.5" width="2" height="35" fill="#fff" stroke="#000"/><path d="M596.5 475V493" stroke="#f00"/><rect x="595.5" y="477.5" width="2" height="16" fill="#ff8080" stroke="#f00"/><path d="M597.5 478V491" stroke="#f00"/><rect x="596.5" y="479.5" width="2" height="12" fill="#ff8080" stroke="#f00"/><path d="M599.5 400V500" stroke="#000"/><rect x="598.5" y="416.5" width="2" height="81" fill="#fff" stroke="#000"/><path d="M602.5 402V451" stroke="#f00"/><rect x="601.5" y="414.5" width="2" height="37" fill="#ff8080" stroke="#f00"/><path d="M605.5 446V463" stroke="#f00"/><rect x="604.5" y="457.5" width="2" height="6" fill="#ff8080" stroke="#f00"/><path d="M607.5 458V477" stroke="#f00"/><rect x="606.5" y="459.5" width="2" height="18" fill="#ff8080" stroke="#f00"/><path d="M608.5 468V483" stroke="#000"/><rect x="607.5" y="470.5" width="2" height="1" fill="#fff" stroke="#000"/><path d="M610.5 442V468" stroke="#f00"/><rect x="609.5" y="443.5" width="2" height="25" fill="#ff8080" stroke="#f00"/><path d="M614.5 453V466" stroke="#000"/><rect x="613.5" y="458.5" width="2" height="1" fill="#fff" stroke="#000"/><path d="M615.5 474V487" stroke="#f00"/><rect x="614.5" y="474.5" width="2" height="13" fill="#ff8080" stroke="#f00"/><path d="M617.5 484V493" stroke="#f00"/><rect x="616.5" y="486.5" width="2" height="7" fill="#ff8080" stroke="#f00"/><path d="M620.5 490V500" stroke="#000"/><rect x="619.5" y="490.5" width="2" height="10" fill="#fff" stroke="#000"/><path d="M622.5 482V491" stroke="#f00"/><rect x="621.5" y="486.5" width="2" height="5" fill="#ff8080" stroke="#f00"/><path d="M624.5 490V496" stroke="#f00"/><rect x="623.5" y="491.5" width="2" height="5" fill="#ff8080" stroke="#f00"/><path d="M626.5 500V510" stroke="#f00"/><rect x="625.5" y="500.5" width="2" height="10" fill="#ff8080" stroke="#f00"/><path d="M628.5 510V520" stroke="#000"/><rect x="627.5" y="510.5" width="2" height="10" fill="#fff" stroke="#000"/><path d="M630.5 505V515" stroke="#f00"/><rect x="629.5" y="505.5" width="2" height="10" fill="#ff8080" stroke="#f00"/><path d="M632.5 514V521" stroke="#f00"/><rect x="631.5" y="515.5" width="2" height="6" fill="#ff8080" stroke="#f00"/><path d="M635.5 518V523" stroke="#f00"/><rect x="634.5" y="519.5" width="2" height="4" fill="#ff8080" stroke="#f00"/><path d="M637.5 516V532" stroke="#f00"/><rect x="636.5" y="517.5" width="2" height="9" fill="#ff8080" stroke="#f00"/><path d="M640.5 509V523" stroke="#000"/><rect x="639.5" y="509.5" width="2" height="14" fill="#fff" stroke="#000"/><path d="M642.5 504V512" stroke="#f00"/><rect x="641.5" y="509.5" width="2" height="3" fill="#ff8080" stroke="#f00"/><path d="M644.5 509V517" stroke="#f00"/><rect x="643.5" y="510.5" width="2" height="2" fill="#ff8080" stroke="#f00"/><path d="M646.5 512V518" stroke="#f00"/><rect x="645.5" y="512.5" width="2" height="6" fill="#ff8080" stroke="#f00"/><path d="M648.5 510V518" stroke="#f00"/><rect x="647.5" y="514.5" width="2" height="4" fill="#ff8080" stroke="#f00"/><path d="M651.5 517V541" stroke="#f00"/><rect x="650.5" y="517.5" width="2" height="24" fill="#ff8080" stroke="#f00"/><path d="M653.5 542V546" stroke="#f00"/><rect x="652.5" y="542.5" width="2" height="4" fill="#ff8080" stroke="#f00"/><path d="M654.5 547V564" stroke="#f00"/><rect x="653.5" y="548.5" width="2" height="16" fill="#ff8080" stroke="#f00"/><path d="M656.5 573V583" stroke="#000"/><rect x="655.5" y="579.5" width="2" height="4" fill="#fff" stroke="#000"/><path d="M658.5 579V592" stroke="#f00"/><rect x="657.5" y="579.5" width="2" height="8" fill="#ff8080" stroke="#f00"/><path d="M661.5 592V606" stroke="#f00"/><rect x="660.5" y="592.5" width="2" height="9" fill="#ff8080" stroke="#f00"/><path d="M663.5 585V595" stroke="#000"/><rect x="662.5" y="586.5" width="2" height="9" fill="#fff" stroke="#000"/><path d="M665.5 589V598" stroke="#f00"/><rect x="664.5" y="590.5" width="2" height="8" fill="#ff8080" stroke="#f00"/><path d="M667.5 597V600" stroke="#000"/><rect x="666.5" y="598.5" width="2" height="2" fill="#fff" stroke="#000"/><path d="M669.5 584V594" stroke="#000"/><rect x="668.5" y="589.5" width="2" height="5" fill="#fff" stroke="#000"/><path d="M671.5 554V590" stroke="#000"/><rect x="670.5" y="568.5" width="2" height="22" fill="#fff" stroke="#000"/><path d="M673.5 583V591" stroke="#000"/><rect x="672.5" y="583.5" width="2" height="8" fill="#fff" stroke="#000"/><path d="M674.5 573V582" stroke="#f00"/><rect x="673.5" y="573.5" width="2" height="9" fill="#ff8080" stroke="#f00"/><path d="M676.5 574V594" stroke="#f00"/><rect x="675.5" y="574.5" width="2" height="20" fill="#ff8080" stroke="#f00"/><path d="M678.5 594V603" stroke="#f00"/><rect x="677.5" y="594.5" width="2" height="9" fill="#ff8080" stroke="#f00"/><path d="M680.5 588V599" stroke="#000"/><rect x="679.5" y="593.5" width="2" height="6" fill="#fff" stroke="#000"/><path d="M682.5 588V594" stroke="#000"/><rect x="681.5" y="588.5" width="2" height="6" fill="#fff" stroke="#000"/><path d="M685.5 585V593" stroke="#f00"/><rect x="684.5" y="585.5" width="2" height="8" fill="#ff8080" stroke="#f00"/><path d="M687.5 586V594" stroke="#f00"/><rect x="686.5" y="586.5" width="2" height="8" fill="#ff8080" stroke="#f00"/><path d="M689.5 595V600" stroke="#f00"/><rect x="688.5" y="595.5" width="2" height="5" fill="#ff8080" stroke="#f00"/><path d="M691.5 610V628" stroke="#f00"/><rect x="690.5" y="612.5" width="2" height="16" fill="#ff8080" stroke="#f00"/><path d="M693.5 615V624" stroke="#f00"/><rect x="692.5" y="615.5" width="2" height="9" fill="#ff8080" stroke="#f00"/><path d="M697.5 615V619" stroke="#f00"/><rect x="696.5" y="615.5" width="2" height="4" fill="#ff8080" stroke="#f00"/><path d="M698.5 610V614" stroke="#000"/><rect x="697.5" y="610.5" width="2" height="4" fill="#fff" stroke="#000"/><path d="M700.5 608V613" stroke="#f00"/><rect x="699.5" y="608.5" width="2" height="5" fill="#ff8080" stroke="#f00"/><path d="M703.5 604V612" stroke="#000"/><rect x="702.5" y="604.5" width="2" height="8" fill="#fff" stroke="#000"/><path d="M705.5 598V607" stroke="#000"/><rect x="704.5" y="600.5" width="2" height="7" fill="#fff" stroke="#000"/><path d="M707.5 596V601" stroke="#f00"/><rect x="706.5" y="600.5" width="2" height="1" fill="#ff8080" stroke="#f00"/><path d="M709.5 600V609" stroke="#f00"/><rect x="708.5" y="601.5" width="2" height="8" fill="#ff8080" stroke="#f00"/><path d="M712.5 610V613" stroke="#f00"/><rect x="711.5" y="610.5" width="2" height="3" fill="#ff8080" stroke="#f00"/><path d="M714.5 612V618" stroke="#000"/><rect x="713.5" y="615.5" width="2" height="1" fill="#fff" stroke="#000"/><path d="M716.5 610V617" stroke="#f00"/><rect x="715.5" y="610.5" width="2" height="7" fill="#ff8080" stroke="#f00"/><path d="M718.5 619V623" stroke="#f00"/><rect x="717.5" y="620.5" width="2" height="3" fill="#ff8080" stroke="#f00"/><path d="M720.5 612V621" stroke="#000"/><rect x="719.5" y="613.5" width="2" height="8" fill="#fff" stroke="#000"/><path d="M722.5 609V613" stroke="#000"/><rect x="721.5" y="610.5" width="2" height="3" fill="#fff" stroke="#000"/><path d="M724.5 584V595" stroke="#f00"/><rect x="723.5" y="584.5" width="2" height="11" fill="#ff8080" stroke="#f00"/><path d="M726.5 579V587" stroke="#000"/><rect x="725.5" y="581.5" width="2" height="6" fill="#fff" stroke="#000"/><path d="M728.5 569V591" stroke="#000"/><rect x="727.5" y="585.5" width="2" height="6" fill="#fff" stroke="#000"/><path d="M731.5 586V594" stroke="#f00"/><rect x="730.5" y="587.5" width="2" height="7" fill="#ff8080" stroke="#f00"/><path d="M734.5 585V595" stroke="#000"/><rect x="733.5" y="585.5" width="2" height="10" fill="#fff" stroke="#000"/><path d="M736.5 590V607" stroke="#f00"/><rect x="735.5" y="590.5" width="2" height="17" fill="#ff8080" stroke="#f00"/><path d="M737.5 607V615" stroke="#f00"/><rect x="736.5" y="607.5" width="2" height="8" fill="#ff8080" stroke="#f00"/><path d="M739.5 615V620" stroke="#f00"/><rect x="738.5" y="615.5" width="2" height="5" fill="#ff8080" stroke="#f00"/><path d="M741.5 617V621" stroke="#f00"/><rect x="740.5" y="617.5" width="2" height="4" fill="#ff8080" stroke="#f00"/><path d="M744.5 616V619" stroke="#000"/><rect x="743.5" y="617.5" width="2" height="1" fill="#fff" stroke="#000"/><path d="M746.5 602V618" stroke="#000"/><rect x="745.5" y="605.5" width="2" height="13" fill="#fff" stroke="#000"/><path d="M748.5 606V615" stroke="#f00"/><rect x="747.5" y="607.5" width="2" height="8" fill="#ff8080" stroke="#f00"/><path d="M750.5 613V619" stroke="#f00"/><rect x="749.5" y="613.5" width="2" height="6" fill="#ff8080" stroke="#f00"/><path d="M753.5 614V620" stroke="#000"/><rect x="752.5" y="615.5" width="2" height="5" fill="#fff" stroke="#000"/><path d="M755.5 596V611" stroke="#000"/><rect x="754.5" y="603.5" width="2" height="8" fill="#fff" stroke="#000"/><path d="M757.5 547V562" stroke="#f00"/><rect x="756.5" y="552.5" width="2" height="4" fill="#ff8080" stroke="#f00"/><path d="M759.5 526V548" stroke="#f00"/><rect x="758.5" y="535.5" width="2" height="13" fill="#ff8080" stroke="#f00"/><path d="M761.5 538V553" stroke="#f00"/><rect x="760.5" y="540.5" width="2" height="7" fill="#ff8080" stroke="#f00"/><path d="M763.5 529V547" stroke="#f00"/><rect x="762.5" y="536.5" width="2" height="11" fill="#ff8080" stroke="#f00"/><path d="M766.5 546V561" stroke="#f00"/><rect x="765.5" y="547.5" width="2" height="14" fill="#ff8080" stroke="#f00"/><path d="M769.5 534V545" stroke="#000"/><rect x="768.5" y="539.5" width="2" height="4" fill="#fff" stroke="#000"/><path d="M770.5 529V548" stroke="#f00"/><rect x="769.5" y="537.5" width="2" height="6" fill="#ff8080" stroke="#f00"/><path d="M772.5 529V550" stroke="#000"/><rect x="771.5" y="529.5" width="2" height="16" fill="#fff" stroke="#000"/><path d="M775.5 515V531" stroke="#f00"/><rect x="774.5" y="515.5" width="2" height="16" fill="#ff8080" stroke="#f00"/><path d="M777.5 520V532" stroke="#000"/><rect x="776.5" y="523.5" width="2" height="9" fill="#fff" stroke="#000"/><path d="M780.5 488V507" stroke="#000"/><rect x="779.5" y="490.5" width="2" height="10" fill="#fff" stroke="#000"/><path d="M781.5 484V502" stroke="#000"/><rect x="780.5" y="486.5" width="2" height="16" fill="#fff" stroke="#000"/><path d="M784.5 440V467" stroke="#000"/><rect x="783.5" y="441.5" width="2" height="26" fill="#fff" stroke="#000"/><path d="M785.5 413V445" stroke="#f00"/><rect x="784.5" y="441.5" width="2" height="4" fill="#ff8080" stroke="#f00"/><path d="M787.5 414V427" stroke="#f00"/><rect x="786.5" y="414.5" width="2" height="9" fill="#ff8080" stroke="#f00"/><path d="M790.5 356V400" stroke="#000"/><rect x="789.5" y="356.5" width="2" height="38" fill="#fff" stroke="#000"/><path d="M793.5 335V388" stroke="#f00"/><rect x="792.5" y="375.5" width="2" height="13" fill="#ff8080" stroke="#f00"/><path d="M794.5 347V405" stroke="#f00"/><rect x="793.5" y="357.5" width="2" height="48" fill="#ff8080" stroke="#f00"/><path d="M796.5 371V407" stroke="#f00"/><rect x="795.5" y="371.5" width="2" height="36" fill="#ff8080" stroke="#f00"/><path d="M798.5 402V441" stroke="#f00"/><rect x="797.5" y="403.5" width="2" height="26" fill="#ff8080" stroke="#f00"/><path d="M800.5 403V429" stroke="#f00"/><rect x="799.5" y="404.5" width="2" height="25" fill="#ff8080" stroke="#f00"/><path d="M804.5 438V476" stroke="#f00"/><rect x="803.5" y="439.5" width="2" height="32" fill="#ff8080" stroke="#f00"/><path d="M805.5 457V471" stroke="#000"/><rect x="804.5" y="458.5" width="2" height="13" fill="#fff" stroke="#000"/><path d="M808.5 452V461" stroke="#f00"/><rect x="807.5" y="456.5" width="2" height="5" fill="#ff8080" stroke="#f00"/><path d="M810.5 446V466" stroke="#f00"/><rect x="809.5" y="457.5" width="2" height="9" fill="#ff8080" stroke="#f00"/><path d="M811.5 468V484" stroke="#f00"/><rect x="810.5" y="468.5" width="2" height="16" fill="#ff8080" stroke="#f00"/><path d="M814.5 470V483" stroke="#000"/><rect x="813.5" y="470.5" width="2" height="8" fill="#fff" stroke="#000"/><path d="M816.5 469V472" stroke="#000"/><rect x="815.5" y="469.5" width="2" height="3" fill="#fff" stroke="#000"/><path d="M818.5 455V464" stroke="#f00"/><rect x="817.5" y="461.5" width="2" height="3" fill="#ff8080" stroke="#f00"/><path d="M820.5 444V458" stroke="#000"/><rect x="819.5" y="444.5" width="2" height="14" fill="#fff" stroke="#000"/><path d="M822.5 421V442" stroke="#f00"/><rect x="821.5" y="427.5" width="2" height="15" fill="#ff8080" stroke="#f00"/><path d="M825.5 437V449" stroke="#000"/><rect x="824.5" y="437.5" width="2" height="5" fill="#fff" stroke="#000"/><path d="M828.5 416V431" stroke="#000"/><rect x="827.5" y="422.5" width="2" height="9" fill="#fff" stroke="#000"/><path d="M830.5 410V422" stroke="#000"/><rect x="829.5" y="410.5" width="2" height="12" fill="#fff" stroke="#000"/><path d="M831.5 377V409" stroke="#000"/><rect x="830.5" y="377.5" width="2" height="32" fill="#fff" stroke="#000"/><path d="M833.5 400V428" stroke="#f00"/><rect x="832.5" y="401.5" width="2" height="27" fill="#ff8080" stroke="#f00"/><path d="M836.5 386V409" stroke="#000"/><rect x="835.5" y="401.5" width="2" height="8" fill="#fff" stroke="#000"/><path d="M838.5 391V421" stroke="#000"/><rect x="837.5" y="391.5" width="2" height="19" fill="#fff" stroke="#000"/><path d="M841.5 382V401" stroke="#f00"/><rect x="840.5" y="395.5" width="2" height="6" fill="#ff8080" stroke="#f00"/><path d="M842.5 402V408" stroke="#f00"/><rect x="841.5" y="402.5" width="2" height="6" fill="#ff8080" stroke="#f00"/><path d="M845.5 438V467" stroke="#f00"/><rect x="844.5" y="438.5" width="2" height="26" fill="#ff8080" stroke="#f00"/><path d="M847.5 436V457" stroke="#f00"/><rect x="846.5" y="436.5" width="2" height="21" fill="#ff8080" stroke="#f00"/><path d="M849.5 457V462" stroke="#f00"/><rect x="848.5" y="457.5" width="2" height="5" fill="#ff8080" stroke="#f00"/><path d="M851.5 441V455" stroke="#000"/><rect x="850.5" y="442.5" width="2" height="13" fill="#fff" stroke="#000"/><path d="M853.5 401V427" stroke="#000"/><rect x="852.5" y="401.5" width="2" height="23" fill="#fff" stroke="#000"/><path d="M855.5 268V323" stroke="#000"/><rect x="854.5" y="296.5" width="2" height="27" fill="#fff" stroke="#000"/><path d="M857.5 284V322" stroke="#f00"/><rect x="856.5" y="301.5" width="2" height="21" fill="#ff8080" stroke="#f00"/><path d="M859.5 312V343" stroke="#f00"/><rect x="858.5" y="313.5" width="2" height="22" fill="#ff8080" stroke="#f00"/><path d="M861.5 318V337" stroke="#f00"/><rect x="860.5" y="318.5" width="2" height="19" fill="#ff8080" stroke="#f00"/><path d="M863.5 280V337" stroke="#f00"/><rect x="862.5" y="309.5" width="2" height="28" fill="#ff8080" stroke="#f00"/><path d="M864.5 333V447" stroke="#f00"/><rect x="863.5" y="334.5" width="2" height="73" fill="#ff8080" stroke="#f00"/><path d="M867.5 386V410" stroke="#000"/><rect x="866.5" y="387.5" width="2" height="19" fill="#fff" stroke="#000"/><path d="M868.5 405V424" stroke="#f00"/><rect x="867.5" y="410.5" width="2" height="9" fill="#ff8080" stroke="#f00"/><path d="M870.5 420V464" stroke="#000"/><rect x="869.5" y="422.5" width="2" height="42" fill="#fff" stroke="#000"/><path d="M873.5 425V449" stroke="#f00"/><rect x="872.5" y="427.5" width="2" height="22" fill="#ff8080" stroke="#f00"/><path d="M875.5 404V432" stroke="#000"/><rect x="874.5" y="412.5" width="2" height="19" fill="#fff" stroke="#000"/><path d="M877.5 348V385" stroke="#000"/><rect x="876.5" y="362.5" width="2" height="12" fill="#fff" stroke="#000"/><path d="M879.5 356V395" stroke="#f00"/><rect x="878.5" y="373.5" width="2" height="12" fill="#ff8080" stroke="#f00"/><path d="M881.5 402V419" stroke="#f00"/><rect x="880.5" y="407.5" width="2" height="5" fill="#ff8080" stroke="#f00"/><path d="M884.5 408V415" stroke="#f00"/><rect x="883.5" y="409.5" width="2" height="6" fill="#ff8080" stroke="#f00"/><path d="M887.5 413V434" stroke="#f00"/><rect x="886.5" y="413.5" width="2" height="21" fill="#ff8080" stroke="#f00"/><path d="M888.5 431V455" stroke="#f00"/><rect x="887.5" y="431.5" width="2" height="24" fill="#ff8080" stroke="#f00"/><path d="M890.5 446V474" stroke="#f00"/><rect x="889.5" y="446.5" width="2" height="21" fill="#ff8080" stroke="#f00"/><path d="M892.5 457V477" stroke="#f00"/><rect x="891.5" y="457.5" width="2" height="18" fill="#ff8080" stroke="#f00"/><path d="M894.5 467V503" stroke="#f00"/><rect x="893.5" y="467.5" width="2" height="32" fill="#ff8080" stroke="#f00"/><path d="M898.5 477V492" stroke="#000"/><rect x="897.5" y="486.5" width="2" height="6" fill="#fff" stroke="#000"/><path d="M900.5 484V490" stroke="#000"/><rect x="899.5" y="484.5" width="2" height="6" fill="#fff" stroke="#000"/><path d="M901.5 467V481" stroke="#000"/><rect x="900.5" y="469.5" width="2" height="12" fill="#fff" stroke="#000"/><path d="M904.5 426V455" stroke="#000"/><rect x="903.5" y="437.5" width="2" height="10" fill="#fff" stroke="#000"/><path d="M905.5 430V437" stroke="#000"/><rect x="904.5" y="433.5" width="2" height="4" fill="#fff" stroke="#000"/><path d="M908.5 424V449" stroke="#f00"/><rect x="907.5" y="437.5" width="2" height="7" fill="#ff8080" stroke="#f00"/><path d="M910.5 436V458" stroke="#000"/><rect x="909.5" y="436.5" width="2" height="22" fill="#fff" stroke="#000"/><path d="M913.5 430V443" stroke="#f00"/><rect x="912.5" y="436.5" width="2" height="7" fill="#ff8080" stroke="#f00"/><path d="M914.5 447V458" stroke="#000"/><rect x="913.5" y="456.5" width="2" height="2" fill="#fff" stroke="#000"/><path d="M917.5 434V449" stroke="#000"/><rect x="916.5" y="435.5" width="2" height="14" fill="#fff" stroke="#000"/><path d="M919.5 424V449" stroke="#000"/><rect x="918.5" y="424.5" width="2" height="21" fill="#fff" stroke="#000"/><path d="M922.5 414V424" stroke="#000"/><rect x="921.5" y="415.5" width="2" height="5" fill="#fff" stroke="#000"/><path d="M923.5 410V419" stroke="#000"/><rect x="922.5" y="414.5" width="2" height="5" fill="#fff" stroke="#000"/><path d="M925.5 397V430" stroke="#000"/><rect x="924.5" y="397.5" width="2" height="27" fill="#fff" stroke="#000"/><path d="M928.5 393V408" stroke="#f00"/><rect x="927.5" y="401.5" width="2" height="7" fill="#ff8080" stroke="#f00"/><path d="M930.5 388V411" stroke="#000"/><rect x="929.5" y="388.5" width="2" height="23" fill="#fff" stroke="#000"/><path d="M931.5 385V412" stroke="#000"/><rect x="930.5" y="386.5" width="2" height="4" fill="#fff" stroke="#000"/><path d="M932.5 380V396" stroke="#000"/><rect x="931.5" y="383.5" width="2" height="5" fill="#fff" stroke="#000"/><path d="M932.5 381V396" stroke="#000"/><rect x="931.5" y="383.5" width="2" height="5" fill="#fff" stroke="#000"/><path d="M934.5 358V375" stroke="#000"/><rect x="933.5" y="361.5" width="2" height="14" fill="#fff" stroke="#000"/><path d="M934.5 358V376" stroke="#000"/><rect x="933.5" y="361.5" width="2" height="15" fill="#fff" stroke="#000"/><path d="M936.5 316V329" stroke="#f00"/><rect x="935.5" y="324.5" width="2" height="5" fill="#ff8080" stroke="#f00"/><path d="M937.5 310V329" stroke="#f00"/><rect x="936.5" y="318.5" width="2" height="6" fill="#ff8080" stroke="#f00"/><path d="M938.5 316V349" stroke="#000"/><rect x="937.5" y="316.5" width="2" height="19" fill="#fff" stroke="#000"/><path d="M939.5 317V348" stroke="#000"/><rect x="938.5" y="318.5" width="2" height="30" fill="#fff" stroke="#000"/><path d="M940.5 318V372" stroke="#f00"/><rect x="939.5" y="318.5" width="2" height="50" fill="#ff8080" stroke="#f00"/><path d="M943.5 305V358" stroke="#000"/><rect x="942.5" y="306.5" width="2" height="52" fill="#fff" stroke="#000"/><path d="M945.5 323V349" stroke="#000"/><rect x="944.5" y="323.5" width="2" height="26" fill="#fff" stroke="#000"/><path d="M947.5 281V330" stroke="#000"/><rect x="946.5" y="282.5" width="2" height="48" fill="#fff" stroke="#000"/><path d="M949.5 284V332" stroke="#f00"/><rect x="948.5" y="284.5" width="2" height="48" fill="#ff8080" stroke="#f00"/><path d="M951.5 284V330" stroke="#f00"/><rect x="950.5" y="299.5" width="2" height="31" fill="#ff8080" stroke="#f00"/><path d="M953.5 284V313" stroke="#000"/><rect x="952.5" y="290.5" width="2" height="1" fill="#fff" stroke="#000"/><path d="M956.5 301V313" stroke="#000"/><rect x="955.5" y="307.5" width="2" height="1" fill="#fff" stroke="#000"/><path d="M959.5 229V265" stroke="#000"/><rect x="958.5" y="235.5" width="2" height="30" fill="#fff" stroke="#000"/><path d="M960.5 232V338" stroke="#f00"/><rect x="959.5" y="241.5" width="2" height="97" fill="#ff8080" stroke="#f00"/><path d="M963.5 265V308" stroke="#000"/><rect x="962.5" y="265.5" width="2" height="43" fill="#fff" stroke="#000"/><path d="M965.5 217V252" stroke="#000"/><rect x="964.5" y="217.5" width="2" height="25" fill="#fff" stroke="#000"/><path d="M967.5 223V252" stroke="#f00"/><rect x="966.5" y="224.5" width="2" height="18" fill="#ff8080" stroke="#f00"/><path d="M970.5 185V205" stroke="#000"/><rect x="969.5" y="192.5" width="2" height="13" fill="#fff" stroke="#000"/><path d="M971.5 186V234" stroke="#f00"/><rect x="970.5" y="187.5" width="2" height="30" fill="#ff8080" stroke="#f00"/><path d="M973.5 150V197" stroke="#000"/><rect x="972.5" y="156.5" width="2" height="41" fill="#fff" stroke="#000"/><path d="M976.5 163V209" stroke="#f00"/><rect x="975.5" y="169.5" width="2" height="35" fill="#ff8080" stroke="#f00"/><path d="M978.5 229V264" stroke="#f00"/><rect x="977.5" y="235.5" width="2" height="19" fill="#ff8080" stroke="#f00"/><path d="M980.5 265V308" stroke="#f00"/><rect x="979.5" y="277.5" width="2" height="31" fill="#ff8080" stroke="#f00"/><path d="M983.5 333V366" stroke="#f00"/><rect x="982.5" y="333.5" width="2" height="10" fill="#ff8080" stroke="#f00"/><path d="M985.5 319V368" stroke="#000"/><rect x="984.5" y="319.5" width="2" height="42" fill="#fff" stroke="#000"/><path d="M987.5 316V334" stroke="#f00"/><rect x="986.5" y="324.5" width="2" height="10" fill="#ff8080" stroke="#f00"/><path d="M988.5 310V346" stroke="#f00"/><rect x="987.5" y="316.5" width="2" height="18" fill="#ff8080" stroke="#f00"/><path d="M991.5 284V314" stroke="#000"/><rect x="990.5" y="284.5" width="2" height="30" fill="#fff" stroke="#000"/><path d="M994.5 277V314" stroke="#f00"/><rect x="993.5" y="284.5" width="2" height="19" fill="#ff8080" stroke="#f00"/><path d="M996.5 277V314" stroke="#f00"/><rect x="995.5" y="290.5" width="2" height="24" fill="#ff8080" stroke="#f00"/><path d="M997.5 314V320" stroke="#f00"/><rect x="996.5" y="316.5" width="2" height="4" fill="#ff8080" stroke="#f00"/><path d="M999.5 367V378" stroke="#f00"/><rect x="998.5" y="371.5" width="2" height="7" fill="#ff8080" stroke="#f00"/><path d="M1001.5 375V384" stroke="#f00"/><rect x="1000.5" y="375.5" width="2" height="9" fill="#ff8080" stroke="#f00"/><path d="M1003.5 376V392" stroke="#f00"/><rect x="1002.5" y="377.5" width="2" height="10" fill="#ff8080" stroke="#f00"/><path d="M1005.5 369V391" stroke="#000"/><rect x="1004.5" y="374.5" width="2" height="17" fill="#fff" stroke="#000"/><path d="M1007.5 383V399" stroke="#f00"/><rect x="1006.5" y="384.5" width="2" height="4" fill="#ff8080" stroke="#f00"/><path d="M1008.5 352V385" stroke="#000"/><rect x="1007.5" y="355.5" width="2" height="30" fill="#fff" stroke="#000"/><path d="M1011.5 355V378" stroke="#f00"/><rect x="1010.5" y="357.5" width="2" height="21" fill="#ff8080" stroke="#f00"/><path d="M1013.5 383V402" stroke="#000"/><rect x="1012.5" y="394.5" width="2" height="1" fill="#fff" stroke="#000"/><path d="M1015.5 385V401" stroke="#f00"/><rect x="1014.5" y="389.5" width="2" height="12" fill="#ff8080" stroke="#f00"/><path d="M1018.5 388V479" stroke="#f00"/><rect x="1017.5" y="389.5" width="2" height="86" fill="#ff8080" stroke="#f00"/><path d="M1020.5 480V510" stroke="#f00"/><rect x="1019.5" y="501.5" width="2" height="4" fill="#ff8080" stroke="#f00"/><path d="M1021.5 490V515" stroke="#f00"/><rect x="1020.5" y="503.5" width="2" height="12" fill="#ff8080" stroke="#f00"/><path d="M1022.5 497V516" stroke="#f00"/><rect x="1021.5" y="501.5" width="2" height="15" fill="#ff8080" stroke="#f00"/><path d="M1024.5 503V524" stroke="#f00"/><rect x="1023.5" y="503.5" width="2" height="15" fill="#ff8080" stroke="#f00"/><path d="M1026.5 501V529" stroke="#f00"/><rect x="1025.5" y="518.5" width="2" height="2" fill="#ff8080" stroke="#f00"/><path d="M1028.5 511V535" stroke="#000"/><rect x="1027.5" y="517.5" width="2" height="18" fill="#fff" stroke="#000"/><path d="M1030.5 474V486" stroke="#000"/><rect x="1029.5" y="478.5" width="2" height="8" fill="#fff" stroke="#000"/><path d="M1033.5 479V482" stroke="#f00"/><rect x="1032.5" y="479.5" width="2" height="3" fill="#ff8080" stroke="#f00"/><path d="M1034.5 468V495" stroke="#f00"/><rect x="1033.5" y="476.5" width="2" height="19" fill="#ff8080" stroke="#f00"/><path d="M1037.5 488V505" stroke="#000"/><rect x="1036.5" y="489.5" width="2" height="8" fill="#fff" stroke="#000"/><path d="M1039.5 485V494" stroke="#f00"/><rect x="1038.5" y="489.5" width="2" height="5" fill="#ff8080" stroke="#f00"/><path d="M1041.5 494V507" stroke="#f00"/><rect x="1040.5" y="494.5" width="2" height="13" fill="#ff8080" stroke="#f00"/><path d="M1044.5 503V530" stroke="#f00"/><rect x="1043.5" y="503.5" width="2" height="27" fill="#ff8080" stroke="#f00"/><path d="M1046.5 492V511" stroke="#000"/><rect x="1045.5" y="492.5" width="2" height="19" fill="#fff" stroke="#000"/><path d="M1048.5 484V489" stroke="#000"/><rect x="1047.5" y="484.5" width="2" height="5" fill="#fff" stroke="#000"/><path d="M1050.5 456V494" stroke="#f00"/><rect x="1049.5" y="486.5" width="2" height="8" fill="#ff8080" stroke="#f00"/><path d="M1053.5 492V503" stroke="#000"/><rect x="1052.5" y="501.5" width="2" height="2" fill="#fff" stroke="#000"/><path d="M1055.5 508V517" stroke="#f00"/><rect x="1054.5" y="509.5" width="2" height="2" fill="#ff8080" stroke="#f00"/><path d="M1058.5 502V520" stroke="#f00"/><rect x="1057.5" y="507.5" width="2" height="13" fill="#ff8080" stroke="#f00"/><path d="M1062.5 516V533" stroke="#000"/><rect x="1061.5" y="523.5" width="2" height="10" fill="#fff" stroke="#000"/><path d="M1063.5 525V529" stroke="#f00"/><rect x="1062.5" y="526.5" width="2" height="3" fill="#ff8080" stroke="#f00"/><path d="M1065.5 512V532" stroke="#000"/><rect x="1064.5" y="512.5" width="2" height="20" fill="#fff" stroke="#000"/><path d="M1067.5 508V520" stroke="#000"/><rect x="1066.5" y="510.5" width="2" height="10" fill="#fff" stroke="#000"/><path d="M1070.5 493V507" stroke="#000"/><rect x="1069.5" y="493.5" width="2" height="14" fill="#fff" stroke="#000"/><path d="M1072.5 492V513" stroke="#000"/><rect x="1071.5" y="492.5" width="2" height="19" fill="#fff" stroke="#000"/><path d="M1074.5 472V491" stroke="#f00"/><rect x="1073.5" y="475.5" width="2" height="16" fill="#ff8080" stroke="#f00"/><path d="M1076.5 484V497" stroke="#f00"/><rect x="1075.5" y="484.5" width="2" height="7" fill="#ff8080" stroke="#f00"/><path d="M1078.5 469V491" stroke="#f00"/><rect x="1077.5" y="484.5" width="2" height="7" fill="#ff8080" stroke="#f00"/><path d="M1081.5 478V497" stroke="#f00"/><rect x="1080.5" y="478.5" width="2" height="13" fill="#ff8080" stroke="#f00"/><path d="M1083.5 473V488" stroke="#000"/><rect x="1082.5" y="475.5" width="2" height="13" fill="#fff" stroke="#000"/><path d="M1086.5 477V485" stroke="#f00"/><rect x="1085.5" y="480.5" width="2" height="5" fill="#ff8080" stroke="#f00"/><path d="M1087.5 477V499" stroke="#f00"/><rect x="1086.5" y="486.5" width="2" height="13" fill="#ff8080" stroke="#f00"/><path d="M1090.5 490V507" stroke="#f00"/><rect x="1089.5" y="491.5" width="2" height="12" fill="#ff8080" stroke="#f00"/><path d="M1092.5 500V510" stroke="#000"/><rect x="1091.5" y="500.5" width="2" height="5" fill="#fff" stroke="#000"/><path d="M1094.5 495V503" stroke="#000"/><rect x="1093.5" y="495.5" width="2" height="8" fill="#fff" stroke="#000"/><path d="M1096.5 493V498" stroke="#000"/><rect x="1095.5" y="493.5" width="2" height="5" fill="#fff" stroke="#000"/><path d="M1098.5 490V495" stroke="#000"/><rect x="1097.5" y="491.5" width="2" height="4" fill="#fff" stroke="#000"/><path d="M1099.5 488V491" stroke="#000"/><rect x="1098.5" y="488.5" width="2" height="3" fill="#fff" stroke="#000"/><path d="M1101.5 480V489" stroke="#000"/><rect x="1100.5" y="486.5" width="2" height="3" fill="#fff" stroke="#000"/><path d="M1103.5 489V539" stroke="#f00"/><rect x="1102.5" y="490.5" width="2" height="38" fill="#ff8080" stroke="#f00"/><path d="M1104.5 529V534" stroke="#000"/><rect x="1103.5" y="529.5" width="2" height="5" fill="#fff" stroke="#000"/><path d="M1107.5 537V555" stroke="#f00"/><rect x="1106.5" y="537.5" width="2" height="13" fill="#ff8080" stroke="#f00"/><path d="M1109.5 534V550" stroke="#000"/><rect x="1108.5" y="538.5" width="2" height="12" fill="#fff" stroke="#000"/><path d="M1111.5 543V558" stroke="#f00"/><rect x="1110.5" y="547.5" width="2" height="11" fill="#ff8080" stroke="#f00"/><path d="M1113.5 555V578" stroke="#f00"/><rect x="1112.5" y="558.5" width="2" height="20" fill="#ff8080" stroke="#f00"/><path d="M1115.5 556V564" stroke="#f00"/><rect x="1114.5" y="558.5" width="2" height="6" fill="#ff8080" stroke="#f00"/><path d="M1118.5 590V604" stroke="#f00"/><rect x="1117.5" y="598.5" width="2" height="6" fill="#ff8080" stroke="#f00"/><path d="M1121.5 578V581" stroke="#000"/><rect x="1120.5" y="578.5" width="2" height="3" fill="#fff" stroke="#000"/><path d="M1122.5 567V581" stroke="#000"/><rect x="1121.5" y="578.5" width="2" height="2" fill="#fff" stroke="#000"/><path d="M1124.5 578V580" stroke="#f00"/><rect x="1123.5" y="578.5" width="2" height="2" fill="#ff8080" stroke="#f00"/><path d="M1127.5 588V599" stroke="#f00"/><rect x="1126.5" y="588.5" width="2" height="6" fill="#ff8080" stroke="#f00"/><path d="M1129.5 580V585" stroke="#000"/><rect x="1128.5" y="580.5" width="2" height="5" fill="#fff" stroke="#000"/><path d="M1130.5 584V594" stroke="#f00"/><rect x="1129.5" y="585.5" width="2" height="5" fill="#ff8080" stroke="#f00"/><path d="M1134.5 582V596" stroke="#000"/><rect x="1133.5" y="583.5" width="2" height="10" fill="#fff" stroke="#000"/><path d="M1136.5 584V589" stroke="#f00"/><rect x="1135.5" y="585.5" width="2" height="4" fill="#ff8080" stroke="#f00"/><path d="M1140.5 582V586" stroke="#000"/><rect x="1139.5" y="583.5" width="2" height="3" fill="#fff" stroke="#000"/><path d="M1141.5 588V606" stroke="#f00"/><rect x="1140.5" y="588.5" width="2" height="18" fill="#ff8080" stroke="#f00"/><path d="M1145.5 613V626" stroke="#f00"/><rect x="1144.5" y="613.5" width="2" height="7" fill="#ff8080" stroke="#f00"/><path d="M1147.5 644V664" stroke="#000"/><rect x="1146.5" y="644.5" width="2" height="16" fill="#fff" stroke="#000"/><path d="M1149.5 621V641" stroke="#000"/><rect x="1148.5" y="627.5" width="2" height="14" fill="#fff" stroke="#000"/><path d="M1151.5 622V625" stroke="#f00"/><rect x="1150.5" y="623.5" width="2" height="2" fill="#ff8080" stroke="#f00"/><path d="M1153.5 618V623" stroke="#000"/><rect x="1152.5" y="618.5" width="2" height="5" fill="#fff" stroke="#000"/><path d="M1155.5 609V621" stroke="#f00"/><rect x="1154.5" y="615.5" width="2" height="6" fill="#ff8080" stroke="#f00"/><path d="M1157.5 620V627" stroke="#000"/><rect x="1156.5" y="621.5" width="2" height="2" fill="#fff" stroke="#000"/><path d="M1159.5 601V604" stroke="#f00"/><rect x="1158.5" y="602.5" width="2" height="2" fill="#ff8080" stroke="#f00"/><path d="M1162.5 589V596" stroke="#000"/><rect x="1161.5" y="595.5" width="2" height="1" fill="#fff" stroke="#000"/><path d="M1164.5 589V595" stroke="#000"/><rect x="1163.5" y="593.5" width="2" height="2" fill="#fff" stroke="#000"/><path d="M1166.5 595V616" stroke="#f00"/><rect x="1165.5" y="595.5" width="2" height="21" fill="#ff8080" stroke="#f00"/><path d="M1168.5 606V620" stroke="#000"/><rect x="1167.5" y="606.5" width="2" height="9" fill="#fff" stroke="#000"/><path d="M1171.5 596V602" stroke="#f00"/><rect x="1170.5" y="596.5" width="2" height="6" fill="#ff8080" stroke="#f00"/><path d="M1173.5 593V609" stroke="#000"/><rect x="1172.5" y="598.5" width="2" height="6" fill="#fff" stroke="#000"/><path d="M1174.5 602V608" stroke="#f00"/><rect x="1173.5" y="602.5" width="2" height="6" fill="#ff8080" stroke="#f00"/><path d="M1176.5 621V631" stroke="#f00"/><rect x="1175.5" y="623.5" width="2" height="8" fill="#ff8080" stroke="#f00"/><path d="M1179.5 618V622" stroke="#000"/><rect x="1178.5" y="618.5" width="2" height="4" fill="#fff" stroke="#000"/><path d="M1182.5 610V615" stroke="#f00"/><rect x="1181.5" y="612.5" width="2" height="3" fill="#ff8080" stroke="#f00"/><path d="M1184.5 615V622" stroke="#f00"/><rect x="1183.5" y="615.5" width="2" height="7" fill="#ff8080" stroke="#f00"/><path d="M1186.5 615V621" stroke="#f00"/><rect x="1185.5" y="615.5" width="2" height="6" fill="#ff8080" stroke="#f00"/><path d="M1188.5 623V642" stroke="#f00"/><rect x="1187.5" y="629.5" width="2" height="13" fill="#ff8080" stroke="#f00"/><path d="M1190.5 635V646" stroke="#f00"/><rect x="1189.5" y="635.5" width="2" height="11" fill="#ff8080" stroke="#f00"/><path d="M1193.5 692V720" stroke="#000"/><rect x="1192.5" y="698.5" width="2" height="7" fill="#fff" stroke="#000"/><path d="M1195.5 676V685" stroke="#000"/><rect x="1194.5" y="676.5" width="2" height="9" fill="#fff" stroke="#000"/><path d="M1196.5 678V692" stroke="#f00"/><rect x="1195.5" y="678.5" width="2" height="14" fill="#ff8080" stroke="#f00"/><path d="M1198.5 668V679" stroke="#000"/><rect x="1197.5" y="676.5" width="2" height="3" fill="#fff" stroke="#000"/><path d="M1201.5 670V674" stroke="#f00"/><rect x="1200.5" y="671.5" width="2" height="3" fill="#ff8080" stroke="#f00"/><path d="M1203.5 668V680" stroke="#000"/><rect x="1202.5" y="674.5" width="2" height="6" fill="#fff" stroke="#000"/><path d="M1206.5 671V674" stroke="#000"/><rect x="1205.5" y="672.5" width="2" height="2" fill="#fff" stroke="#000"/><path d="M1207.5 672V674" stroke="#f00"/><rect x="1206.5" y="672.5" width="2" height="2" fill="#ff8080" stroke="#f00"/><path d="M1209.5 670V687" stroke="#f00"/><rect x="1208.5" y="670.5" width="2" height="17" fill="#ff8080" stroke="#f00"/><path d="M1212.5 683V686" stroke="#000"/><rect x="1211.5" y="683.5" width="2" height="3" fill="#fff" stroke="#000"/><path d="M1214.5 667V676" stroke="#000"/><rect x="1213.5" y="667.5" width="2" height="9" fill="#fff" stroke="#000"/><path d="M1216.5 653V662" stroke="#000"/><rect x="1215.5" y="653.5" width="2" height="9" fill="#fff" stroke="#000"/><path d="M1218.5 610V647" stroke="#000"/><rect x="1217.5" y="613.5" width="2" height="34" fill="#fff" stroke="#000"/><path d="M1221.5 602V613" stroke="#f00"/><rect x="1220.5" y="602.5" width="2" height="2" fill="#ff8080" stroke="#f00"/><path d="M1222.5 601V608" stroke="#000"/><rect x="1221.5" y="604.5" width="2" height="2" fill="#fff" stroke="#000"/><path d="M1225.5 611V620" stroke="#f00"/><rect x="1224.5" y="611.5" width="2" height="9" fill="#ff8080" stroke="#f00"/><path d="M1227.5 617V629" stroke="#f00"/><rect x="1226.5" y="622.5" width="2" height="7" fill="#ff8080" stroke="#f00"/><path d="M1230.5 648V660" stroke="#f00"/><rect x="1229.5" y="648.5" width="2" height="12" fill="#ff8080" stroke="#f00"/><path d="M1231.5 660V674" stroke="#f00"/><rect x="1230.5" y="660.5" width="2" height="14" fill="#ff8080" stroke="#f00"/><path d="M1233.5 672V675" stroke="#f00"/><rect x="1232.5" y="672.5" width="2" height="3" fill="#ff8080" stroke="#f00"/><path d="M1235.5 679V686" stroke="#f00"/><rect x="1234.5" y="679.5" width="2" height="4" fill="#ff8080" stroke="#f00"/><path d="M1239.5 676V684" stroke="#f00"/><rect x="1238.5" y="679.5" width="2" height="5" fill="#ff8080" stroke="#f00"/><path d="M1240.5 692V698" stroke="#f00"/><rect x="1239.5" y="692.5" width="2" height="6" fill="#ff8080" stroke="#f00"/><path d="M1242.5 698V704" stroke="#f00"/><rect x="1241.5" y="698.5" width="2" height="6" fill="#ff8080" stroke="#f00"/><path d="M1245.5 702V708" stroke="#f00"/><rect x="1244.5" y="702.5" width="2" height="6" fill="#ff8080" stroke="#f00"/><path d="M1247.5 693V700" stroke="#000"/><rect x="1246.5" y="693.5" width="2" height="7" fill="#fff" stroke="#000"/><path d="M1249.5 697V699" stroke="#000"/><rect x="1248.5" y="697.5" width="2" height="2" fill="#fff" stroke="#000"/><path d="M1251.5 699V703" stroke="#f00"/><rect x="1250.5" y="699.5" width="2" height="2" fill="#ff8080" stroke="#f00"/><path d="M1254.5 692V698" stroke="#000"/><rect x="1253.5" y="693.5" width="2" height="5" fill="#fff" stroke="#000"/><path d="M1256.5 663V699" stroke="#000"/><rect x="1255.5" y="672.5" width="2" height="27" fill="#fff" stroke="#000"/><path d="M1258.5 695V700" stroke="#f00"/><rect x="1257.5" y="699.5" width="2" height="1" fill="#ff8080" stroke="#f00"/><path d="M1260.5 692V700" stroke="#000"/><rect x="1259.5" y="697.5" width="2" height="1" fill="#fff" stroke="#000"/><path d="M1262.5 696V700" stroke="#000"/><rect x="1261.5" y="697.5" width="2" height="1" fill="#fff" stroke="#000"/><path d="M1264.5 686V688" stroke="#000"/><rect x="1263.5" y="686.5" width="2" height="2" fill="#fff" stroke="#000"/><path d="M1266.5 687V689" stroke="#f00"/><rect x="1265.5" y="687.5" width="2" height="2" fill="#ff8080" stroke="#f00"/><path d="M1268.5 678V685" stroke="#f00"/><rect x="1267.5" y="681.5" width="2" height="4" fill="#ff8080" stroke="#f00"/><path d="M1270.5 679V684" stroke="#000"/><rect x="1269.5" y="682.5" width="2" height="2" fill="#fff" stroke="#000"/><path d="M1273.5 676V679" stroke="#f00"/><rect x="1272.5" y="676.5" width="2" height="3" fill="#ff8080" stroke="#f00"/><path d="M1275.5 669V682" stroke="#000"/><rect x="1274.5" y="669.5" width="2" height="13" fill="#fff" stroke="#000"/><path d="M1277.5 664V670" stroke="#000"/><rect x="1276.5" y="664.5" width="2" height="6" fill="#fff" stroke="#000"/><path d="M1279.5 679V686" stroke="#f00"/><rect x="1278.5" y="679.5" width="2" height="7" fill="#ff8080" stroke="#f00"/><path d="M1281.5 678V700" stroke="#f00"/><rect x="1280.5" y="681.5" width="2" height="19" fill="#ff8080" stroke="#f00"/><path d="M1283.5 688V704" stroke="#f00"/><rect x="1282.5" y="689.5" width="2" height="15" fill="#ff8080" stroke="#f00"/><path d="M1286.5 699V704" stroke="#f00"/><rect x="1285.5" y="699.5" width="2" height="1" fill="#ff8080" stroke="#f00"/><path d="M1288.5 694V699" stroke="#000"/><rect x="1287.5" y="694.5" width="2" height="5" fill="#fff" stroke="#000"/><path d="M1290.5 693V699" stroke="#f00"/><rect x="1289.5" y="693.5" width="2" height="6" fill="#ff8080" stroke="#f00"/><path d="M1292.5 699V702" stroke="#f00"/><rect x="1291.5" y="699.5" width="2" height="3" fill="#ff8080" stroke="#f00"/><path d="M1294.5 699V704" stroke="#f00"/><rect x="1293.5" y="699.5" width="2" height="5" fill="#ff8080" stroke="#f00"/><path d="M1297.5 704V707" stroke="#f00"/><rect x="1296.5" y="704.5" width="2" height="3" fill="#ff8080" stroke="#f00"/><path d="M1299.5 702V704" stroke="#000"/><rect x="1298.5" y="702.5" width="2" height="2" fill="#fff" stroke="#000"/><path d="M1301.5 700V705" stroke="#000"/><rect x="1300.5" y="701.5" width="2" height="4" fill="#fff" stroke="#000"/><path d="M1304.5 702V705" stroke="#f00"/><rect x="1303.5" y="702.5" width="2" height="3" fill="#ff8080" stroke="#f00"/><path d="M1306.5 703V705" stroke="#000"/><rect x="1305.5" y="703.5" width="2" height="1" fill="#fff" stroke="#000"/><path d="M1309.5 704V708" stroke="#f00"/><rect x="1308.5" y="704.5" width="2" height="4" fill="#ff8080" stroke="#f00"/><path d="M1311.5 702V706" stroke="#000"/><rect x="1310.5" y="704.5" width="2" height="1" fill="#fff" stroke="#000"/><path d="M1313.5 694V703" stroke="#f00"/><rect x="1312.5" y="697.5" width="2" height="6" fill="#ff8080" stroke="#f00"/><path d="M1315.5 703V708" stroke="#f00"/><rect x="1314.5" y="703.5" width="2" height="5" fill="#ff8080" stroke="#f00"/><path d="M1316.5 707V715" stroke="#f00"/><rect x="1315.5" y="707.5" width="2" height="8" fill="#ff8080" stroke="#f00"/><path d="M1319.5 712V714" stroke="#f00"/><rect x="1318.5" y="712.5" width="2" height="2" fill="#ff8080" stroke="#f00"/><path d="M1321.5 715V727" stroke="#f00"/><rect x="1320.5" y="715.5" width="2" height="12" fill="#ff8080" stroke="#f00"/><path d="M1323.5 729V735" stroke="#f00"/><rect x="1322.5" y="731.5" width="2" height="4" fill="#ff8080" stroke="#f00"/><path d="M1326.5 723V728" stroke="#f00"/><rect x="1325.5" y="726.5" width="2" height="2" fill="#ff8080" stroke="#f00"/><path d="M1328.5 726V728" stroke="#f00"/><rect x="1327.5" y="726.5" width="2" height="2" fill="#ff8080" stroke="#f00"/><path d="M1330.5 726V735" stroke="#f00"/><rect x="1329.5" y="727.5" width="2" height="8" fill="#ff8080" stroke="#f00"/><path d="M1332.5 732V738" stroke="#000"/><rect x="1331.5" y="735.5" width="2" height="1" fill="#fff" stroke="#000"/><path d="M1335.5 743V749" stroke="#f00"/><rect x="1334.5" y="745.5" width="2" height="4" fill="#ff8080" stroke="#f00"/><path d="M1337.5 743V748" stroke="#000"/><rect x="1336.5" y="746.5" width="2" height="2" fill="#fff" stroke="#000"/><path d="M1338.5 727V734" stroke="#000"/><rect x="1337.5" y="730.5" width="2" height="4" fill="#fff" stroke="#000"/><path d="M1341.5 715V723" stroke="#000"/><rect x="1340.5" y="720.5" width="2" height="1" fill="#fff" stroke="#000"/><path d="M1343.5 681V720" stroke="#000"/><rect x="1342.5" y="689.5" width="2" height="31" fill="#fff" stroke="#000"/><path d="M1345.5 673V683" stroke="#000"/><rect x="1344.5" y="674.5" width="2" height="9" fill="#fff" stroke="#000"/><path d="M1347.5 660V694" stroke="#f00"/><rect x="1346.5" y="674.5" width="2" height="10" fill="#ff8080" stroke="#f00"/><path d="M1349.5 687V707" stroke="#000"/><rect x="1348.5" y="702.5" width="2" height="5" fill="#fff" stroke="#000"/><path d="M1351.5 697V707" stroke="#f00"/><rect x="1350.5" y="702.5" width="2" height="5" fill="#ff8080" stroke="#f00"/><path d="M1353.5 702V713" stroke="#000"/><rect x="1352.5" y="702.5" width="2" height="11" fill="#fff" stroke="#000"/><path d="M1356.5 647V676" stroke="#000"/><rect x="1355.5" y="657.5" width="2" height="19" fill="#fff" stroke="#000"/><path d="M1359.5 656V666" stroke="#f00"/><rect x="1358.5" y="659.5" width="2" height="7" fill="#ff8080" stroke="#f00"/><path d="M1361.5 643V675" stroke="#f00"/><rect x="1360.5" y="661.5" width="2" height="5" fill="#ff8080" stroke="#f00"/><path d="M1362.5 652V665" stroke="#000"/><rect x="1361.5" y="657.5" width="2" height="8" fill="#fff" stroke="#000"/><path d="M1364.5 637V653" stroke="#000"/><rect x="1363.5" y="637.5" width="2" height="5" fill="#fff" stroke="#000"/><path d="M1368.5 560V586" stroke="#000"/><rect x="1367.5" y="580.5" width="2" height="6" fill="#fff" stroke="#000"/><path d="M1370.5 592V620" stroke="#f00"/><rect x="1369.5" y="592.5" width="2" height="20" fill="#ff8080" stroke="#f00"/><path d="M1372.5 578V601" stroke="#000"/><rect x="1371.5" y="579.5" width="2" height="22" fill="#fff" stroke="#000"/><path d="M1374.5 586V598" stroke="#f00"/><rect x="1373.5" y="586.5" width="2" height="12" fill="#ff8080" stroke="#f00"/><path d="M1376.5 579V588" stroke="#000"/><rect x="1375.5" y="580.5" width="2" height="6" fill="#fff" stroke="#000"/><path d="M1378.5 545V578" stroke="#000"/><rect x="1377.5" y="545.5" width="2" height="10" fill="#fff" stroke="#000"/><path d="M1380.5 468V517" stroke="#000"/><rect x="1379.5" y="506.5" width="2" height="5" fill="#fff" stroke="#000"/><path d="M1382.5 475V494" stroke="#000"/><rect x="1381.5" y="488.5" width="2" height="6" fill="#fff" stroke="#000"/><path d="M1384.5 503V511" stroke="#f00"/><rect x="1383.5" y="504.5" width="2" height="7" fill="#ff8080" stroke="#f00"/><path d="M1386.5 491V522" stroke="#000"/><rect x="1385.5" y="491.5" width="2" height="14" fill="#fff" stroke="#000"/><path d="M1388.5 512V558" stroke="#f00"/><rect x="1387.5" y="512.5" width="2" height="46" fill="#ff8080" stroke="#f00"/><path d="M1391.5 563V602" stroke="#f00"/><rect x="1390.5" y="573.5" width="2" height="8" fill="#ff8080" stroke="#f00"/><path d="M1394.5 544V580" stroke="#000"/><rect x="1393.5" y="544.5" width="2" height="36" fill="#fff" stroke="#000"/><path d="M1396.5 524V548" stroke="#f00"/><rect x="1395.5" y="531.5" width="2" height="17" fill="#ff8080" stroke="#f00"/><path d="M1397.5 549V556" stroke="#f00"/><rect x="1396.5" y="549.5" width="2" height="4" fill="#ff8080" stroke="#f00"/><path d="M1400.5 559V570" stroke="#f00"/><rect x="1399.5" y="563.5" width="2" height="1" fill="#ff8080" stroke="#f00"/><path d="M1401.5 573V581" stroke="#f00"/><rect x="1400.5" y="573.5" width="2" height="5" fill="#ff8080" stroke="#f00"/><path d="M1405.5 587V610" stroke="#f00"/><rect x="1404.5" y="594.5" width="2" height="16" fill="#ff8080" stroke="#f00"/><path d="M1406.5 614V646" stroke="#f00"/><rect x="1405.5" y="614.5" width="2" height="32" fill="#ff8080" stroke="#f00"/><path d="M1408.5 629V674" stroke="#000"/><rect x="1407.5" y="629.5" width="2" height="1" fill="#fff" stroke="#000"/><path d="M1410.5 628V643" stroke="#f00"/><rect x="1409.5" y="631.5" width="2" height="1" fill="#ff8080" stroke="#f00"/><path d="M1412.5 604V625" stroke="#000"/><rect x="1411.5" y="614.5" width="2" height="11" fill="#fff" stroke="#000"/><path d="M1415.5 627V637" stroke="#f00"/><rect x="1414.5" y="636.5" width="2" height="1" fill="#ff8080" stroke="#f00"/><path d="M1418.5 639V654" stroke="#000"/><rect x="1417.5" y="641.5" width="2" height="1" fill="#fff" stroke="#000"/><path d="M1420.5 625V637" stroke="#000"/><rect x="1419.5" y="625.5" width="2" height="12" fill="#fff" stroke="#000"/><path d="M1422.5 609V637" stroke="#000"/><rect x="1421.5" y="615.5" width="2" height="22" fill="#fff" stroke="#000"/><path d="M1424.5 604V613" stroke="#000"/><rect x="1423.5" y="608.5" width="2" height="5" fill="#fff" stroke="#000"/><path d="M1426.5 610V642" stroke="#f00"/><rect x="1425.5" y="612.5" width="2" height="30" fill="#ff8080" stroke="#f00"/><path d="M1429.5 647V655" stroke="#f00"/><rect x="1428.5" y="647.5" width="2" height="8" fill="#ff8080" stroke="#f00"/><path d="M1430.5 650V659" stroke="#f00"/><rect x="1429.5" y="650.5" width="2" height="9" fill="#ff8080" stroke="#f00"/><path d="M1433.5 649V656" stroke="#000"/><rect x="1432.5" y="649.5" width="2" height="7" fill="#fff" stroke="#000"/><path d="M1435.5 660V679" stroke="#f00"/><rect x="1434.5" y="660.5" width="2" height="11" fill="#ff8080" stroke="#f00"/><path d="M1437.5 655V660" stroke="#000"/><rect x="1436.5" y="655.5" width="2" height="5" fill="#fff" stroke="#000"/><path d="M1439.5 635V655" stroke="#000"/><rect x="1438.5" y="635.5" width="2" height="17" fill="#fff" stroke="#000"/><path d="M1441.5 635V639" stroke="#000"/><rect x="1440.5" y="635.5" width="2" height="4" fill="#fff" stroke="#000"/><path d="M1444.5 608V636" stroke="#000"/><rect x="1443.5" y="619.5" width="2" height="17" fill="#fff" stroke="#000"/><path d="M1445.5 638V658" stroke="#000"/><rect x="1444.5" y="656.5" width="2" height="1" fill="#fff" stroke="#000"/><path d="M1447.5 647V666" stroke="#000"/><rect x="1446.5" y="653.5" width="2" height="13" fill="#fff" stroke="#000"/><path d="M1450.5 650V657" stroke="#f00"/><rect x="1449.5" y="655.5" width="2" height="2" fill="#ff8080" stroke="#f00"/><path d="M1453.5 657V663" stroke="#000"/><rect x="1452.5" y="661.5" width="2" height="2" fill="#fff" stroke="#000"/><path d="M1455.5 662V668" stroke="#000"/><rect x="1454.5" y="662.5" width="2" height="6" fill="#fff" stroke="#000"/><path d="M1456.5 674V680" stroke="#f00"/><rect x="1455.5" y="674.5" width="2" height="6" fill="#ff8080" stroke="#f00"/><path d="M1458.5 675V687" stroke="#f00"/><rect x="1457.5" y="675.5" width="2" height="12" fill="#ff8080" stroke="#f00"/><path d="M1461.5 685V692" stroke="#000"/><rect x="1460.5" y="685.5" width="2" height="1" fill="#fff" stroke="#000"/><path d="M1463.5 678V682" stroke="#000"/><rect x="1462.5" y="678.5" width="2" height="4" fill="#fff" stroke="#000"/><path d="M1465.5 673V683" stroke="#000"/><rect x="1464.5" y="682.5" width="2" height="1" fill="#fff" stroke="#000"/><path d="M1467.5 728V752" stroke="#000"/><rect x="1466.5" y="728.5" width="2" height="21" fill="#fff" stroke="#000"/><path d="M1469.5 729V736" stroke="#f00"/><rect x="1468.5" y="730.5" width="2" height="6" fill="#ff8080" stroke="#f00"/><path d="M1472.5 735V739" stroke="#f00"/><rect x="1471.5" y="735.5" width="2" height="4" fill="#ff8080" stroke="#f00"/><path d="M1474.5 735V742" stroke="#f00"/><rect x="1473.5" y="735.5" width="2" height="7" fill="#ff8080" stroke="#f00"/><path d="M1476.5 736V748" stroke="#f00"/><rect x="1475.5" y="736.5" width="2" height="12" fill="#ff8080" stroke="#f00"/><path d="M1478.5 740V743" stroke="#000"/><rect x="1477.5" y="740.5" width="2" height="3" fill="#fff" stroke="#000"/><path d="M1481.5 729V742" stroke="#f00"/><rect x="1480.5" y="730.5" width="2" height="12" fill="#ff8080" stroke="#f00"/><path d="M1483.5 730V743" stroke="#000"/><rect x="1482.5" y="730.5" width="2" height="13" fill="#fff" stroke="#000"/><path d="M1486.5 729V738" stroke="#f00"/><rect x="1485.5" y="730.5" width="2" height="8" fill="#ff8080" stroke="#f00"/><path d="M1488.5 729V732" stroke="#000"/><rect x="1487.5" y="730.5" width="2" height="2" fill="#fff" stroke="#000"/><path d="M1490.5 726V736" stroke="#f00"/><rect x="1489.5" y="731.5" width="2" height="5" fill="#ff8080" stroke="#f00"/><path d="M1492.5 737V750" stroke="#f00"/><rect x="1491.5" y="738.5" width="2" height="12" fill="#ff8080" stroke="#f00"/><path d="M1494.5 741V749" stroke="#000"/><rect x="1493.5" y="743.5" width="2" height="2" fill="#fff" stroke="#000"/><path d="M1496.5 741V744" stroke="#000"/><rect x="1495.5" y="742.5" width="2" height="1" fill="#fff" stroke="#000"/><path d="M1499.5 738V752" stroke="#f00"/><rect x="1498.5" y="744.5" width="2" height="8" fill="#ff8080" stroke="#f00"/><path d="M1500.5 755V760" stroke="#f00"/><rect x="1499.5" y="755.5" width="2" height="5" fill="#ff8080" stroke="#f00"/><path d="M1502.5 764V774" stroke="#000"/><rect x="1501.5" y="764.5" width="2" height="3" fill="#fff" stroke="#000"/><path d="M1505.5 758V767" stroke="#f00"/><rect x="1504.5" y="760.5" width="2" height="7" fill="#ff8080" stroke="#f00"/><path d="M1506.5 755V764" stroke="#f00"/><rect x="1505.5" y="760.5" width="2" height="4" fill="#ff8080" stroke="#f00"/><path d="M1509.5 763V772" stroke="#000"/><rect x="1508.5" y="764.5" width="2" height="8" fill="#fff" stroke="#000"/><path d="M1512.5 750V775" stroke="#f00"/><rect x="1511.5" y="752.5" width="2" height="23" fill="#ff8080" stroke="#f00"/><path d="M1514.5 776V784" stroke="#000"/><rect x="1513.5" y="776.5" width="2" height="4" fill="#fff" stroke="#000"/><path d="M1515.5 769V777" stroke="#000"/><rect x="1514.5" y="772.5" width="2" height="5" fill="#fff" stroke="#000"/><path d="M1518.5 772V781" stroke="#f00"/><rect x="1517.5" y="772.5" width="2" height="9" fill="#ff8080" stroke="#f00"/><path d="M1520.5 778V781" stroke="#000"/><rect x="1519.5" y="778.5" width="2" height="3" fill="#fff" stroke="#000"/><path d="M1522.5 789V802" stroke="#f00"/><rect x="1521.5" y="791.5" width="2" height="11" fill="#ff8080" stroke="#f00"/><path d="M1524.5 795V804" stroke="#000"/><rect x="1523.5" y="796.5" width="2" height="8" fill="#fff" stroke="#000"/><path d="M1526.5 797V800" stroke="#000"/><rect x="1525.5" y="797.5" width="2" height="3" fill="#fff" stroke="#000"/><path d="M1529.5 797V802" stroke="#f00"/><rect x="1528.5" y="797.5" width="2" height="5" fill="#ff8080" stroke="#f00"/><path d="M1531.5 797V799" stroke="#000"/><rect x="1530.5" y="797.5" width="2" height="2" fill="#fff" stroke="#000"/><path d="M1533.5 796V799" stroke="#000"/><rect x="1532.5" y="797.5" width="2" height="1" fill="#fff" stroke="#000"/><path d="M1536.5 801V804" stroke="#f00"/><rect x="1535.5" y="801.5" width="2" height="1" fill="#ff8080" stroke="#f00"/><path d="M1537.5 797V799" stroke="#000"/><rect x="1536.5" y="797.5" width="2" height="2" fill="#fff" stroke="#000"/><path d="M1540.5 797V800" stroke="#f00"/><rect x="1539.5" y="797.5" width="2" height="3" fill="#ff8080" stroke="#f00"/><path d="M1541.5 800V803" stroke="#f00"/><rect x="1540.5" y="800.5" width="2" height="3" fill="#ff8080" stroke="#f00"/><path d="M1544.5 794V799" stroke="#000"/><rect x="1543.5" y="794.5" width="2" height="5" fill="#fff" stroke="#000"/><path d="M1546.5 790V798" stroke="#000"/><rect x="1545.5" y="790.5" width="2" height="8" fill="#fff" stroke="#000"/><path d="M1549.5 772V787" stroke="#f00"/><rect x="1548.5" y="774.5" width="2" height="13" fill="#ff8080" stroke="#f00"/><path d="M1550.5 783V787" stroke="#f00"/><rect x="1549.5" y="783.5" width="2" height="4" fill="#ff8080" stroke="#f00"/><path d="M1552.5 793V800" stroke="#f00"/><rect x="1551.5" y="793.5" width="2" height="7" fill="#ff8080" stroke="#f00"/><path d="M1554.5 803V808" stroke="#000"/><rect x="1553.5" y="805.5" width="2" height="1" fill="#fff" stroke="#000"/><path d="M1557.5 801V806" stroke="#f00"/><rect x="1556.5" y="805.5" width="2" height="1" fill="#ff8080" stroke="#f00"/><path d="M1560.5 808V810" stroke="#f00"/><rect x="1559.5" y="808.5" width="2" height="2" fill="#ff8080" stroke="#f00"/><path d="M1562.5 813V818" stroke="#f00"/><rect x="1561.5" y="813.5" width="2" height="1" fill="#ff8080" stroke="#f00"/><path d="M1564.5 813V814" stroke="#000"/><rect x="1563.5" y="813.5" width="2" height="1" fill="#fff" stroke="#000"/><path d="M1566.5 826V834" stroke="#000"/><rect x="1565.5" y="826.5" width="2" height="2" fill="#fff" stroke="#000"/><path d="M1569.5 821V828" stroke="#f00"/><rect x="1568.5" y="821.5" width="2" height="7" fill="#ff8080" stroke="#f00"/><path d="M1570.5 817V828" stroke="#000"/><rect x="1569.5" y="817.5" width="2" height="11" fill="#fff" stroke="#000"/><path d="M1572.5 817V820" stroke="#f00"/><rect x="1571.5" y="817.5" width="2" height="3" fill="#ff8080" stroke="#f00"/><path d="M1574.5 814V818" stroke="#000"/><rect x="1573.5" y="817.5" width="2" height="1" fill="#fff" stroke="#000"/><path d="M1577.5 816V819" stroke="#000"/><rect x="1576.5" y="817.5" width="2" height="1" fill="#fff" stroke="#000"/><path d="M1578.5 793V818" stroke="#f00"/><rect x="1577.5" y="817.5" width="2" height="1" fill="#ff8080" stroke="#f00"/><path d="M1581.5 817V825" stroke="#f00"/><rect x="1580.5" y="817.5" width="2" height="3" fill="#ff8080" stroke="#f00"/><path d="M1584.5 817V821" stroke="#000"/><rect x="1583.5" y="817.5" width="2" height="4" fill="#fff" stroke="#000"/><path d="M1586.5 796V806" stroke="#000"/><rect x="1585.5" y="797.5" width="2" height="9" fill="#fff" stroke="#000"/><path d="M1587.5 790V796" stroke="#f00"/><rect x="1586.5" y="792.5" width="2" height="2" fill="#ff8080" stroke="#f00"/><path d="M1590.5 769V797" stroke="#000"/><rect x="1589.5" y="778.5" width="2" height="19" fill="#fff" stroke="#000"/><path d="M1592.5 776V783" stroke="#000"/><rect x="1591.5" y="778.5" width="2" height="5" fill="#fff" stroke="#000"/><path d="M1594.5 780V783" stroke="#000"/><rect x="1593.5" y="781.5" width="2" height="2" fill="#fff" stroke="#000"/><path d="M1596.5 782V784" stroke="#000"/><rect x="1595.5" y="782.5" width="2" height="2" fill="#fff" stroke="#000"/><path d="M1598.5 782V788" stroke="#f00"/><rect x="1597.5" y="783.5" width="2" height="3" fill="#ff8080" stroke="#f00"/><path d="M1600.5 781V785" stroke="#f00"/><rect x="1599.5" y="782.5" width="2" height="3" fill="#ff8080" stroke="#f00"/><path d="M1603.5 786V791" stroke="#f00"/><rect x="1602.5" y="789.5" width="2" height="2" fill="#ff8080" stroke="#f00"/><path d="M1605.5 794V798" stroke="#f00"/><rect x="1604.5" y="795.5" width="2" height="3" fill="#ff8080" stroke="#f00"/><path d="M1608.5 795V798" stroke="#f00"/><rect x="1607.5" y="795.5" width="2" height="3" fill="#ff8080" stroke="#f00"/><path d="M1609.5 775V794" stroke="#000"/><rect x="1608.5" y="775.5" width="2" height="19" fill="#fff" stroke="#000"/><path d="M1612.5 770V778" stroke="#000"/><rect x="1611.5" y="773.5" width="2" height="5" fill="#fff" stroke="#000"/><path d="M1613.5 766V776" stroke="#f00"/><rect x="1612.5" y="772.5" width="2" height="4" fill="#ff8080" stroke="#f00"/><path d="M1616.5 769V780" stroke="#000"/><rect x="1615.5" y="770.5" width="2" height="10" fill="#fff" stroke="#000"/><path d="M1619.5 770V776" stroke="#f00"/><rect x="1618.5" y="771.5" width="2" height="5" fill="#ff8080" stroke="#f00"/><path d="M1621.5 778V786" stroke="#f00"/><rect x="1620.5" y="779.5" width="2" height="5" fill="#ff8080" stroke="#f00"/><path d="M1623.5 780V783" stroke="#000"/><rect x="1622.5" y="782.5" width="2" height="1" fill="#fff" stroke="#000"/><path d="M1624.5 787V790" stroke="#f00"/><rect x="1623.5" y="787.5" width="2" height="2" fill="#ff8080" stroke="#f00"/><path d="M1627.5 786V790" stroke="#f00"/><rect x="1626.5" y="786.5" width="2" height="4" fill="#ff8080" stroke="#f00"/><path d="M1629.5 783V788" stroke="#000"/><rect x="1628.5" y="786.5" width="2" height="2" fill="#fff" stroke="#000"/><path d="M1631.5 776V778" stroke="#000"/><rect x="1630.5" y="777.5" width="2" height="1" fill="#fff" stroke="#000"/><path d="M1633.5 774V782" stroke="#f00"/><rect x="1632.5" y="775.5" width="2" height="7" fill="#ff8080" stroke="#f00"/><path d="M1636.5 783V789" stroke="#f00"/><rect x="1635.5" y="787.5" width="2" height="2" fill="#ff8080" stroke="#f00"/><path d="M1638.5 786V789" stroke="#000"/><rect x="1637.5" y="788.5" width="2" height="1" fill="#fff" stroke="#000"/><path d="M1640.5 790V792" stroke="#f00"/><rect x="1639.5" y="790.5" width="2" height="2" fill="#ff8080" stroke="#f00"/><path d="M1643.5 793V798" stroke="#f00"/><rect x="1642.5" y="793.5" width="2" height="5" fill="#ff8080" stroke="#f00"/><path d="M1645.5 798V800" stroke="#000"/><rect x="1644.5" y="798.5" width="2" height="2" fill="#fff" stroke="#000"/><path d="M1647.5 796V798" stroke="#000"/><rect x="1646.5" y="797.5" width="2" height="1" fill="#fff" stroke="#000"/><path d="M1649.5 797V798" stroke="#f00"/><rect x="1648.5" y="797.5" width="2" height="1" fill="#ff8080" stroke="#f00"/><path d="M1651.5 798V805" stroke="#f00"/><rect x="1650.5" y="798.5" width="2" height="7" fill="#ff8080" stroke="#f00"/><path d="M1653.5 797V807" stroke="#000"/><rect x="1652.5" y="797.5" width="2" height="10" fill="#fff" stroke="#000"/><path d="M1656.5 791V797" stroke="#000"/><rect x="1655.5" y="791.5" width="2" height="6" fill="#fff" stroke="#000"/><path d="M1657.5 784V791" stroke="#000"/><rect x="1656.5" y="789.5" width="2" height="2" fill="#fff" stroke="#000"/><path d="M1660.5 791V799" stroke="#f00"/><rect x="1659.5" y="791.5" width="2" height="8" fill="#ff8080" stroke="#f00"/><path d="M1663.5 806V808" stroke="#000"/><rect x="1662.5" y="806.5" width="2" height="2" fill="#fff" stroke="#000"/><path d="M1664.5 804V808" stroke="#000"/><rect x="1663.5" y="804.5" width="2" height="4" fill="#fff" stroke="#000"/><path d="M1666.5 806V809" stroke="#f00"/><rect x="1665.5" y="807.5" width="2" height="2" fill="#ff8080" stroke="#f00"/><path d="M1668.5 810V817" stroke="#f00"/><rect x="1667.5" y="811.5" width="2" height="6" fill="#ff8080" stroke="#f00"/><path d="M1670.5 813V816" stroke="#f00"/><rect x="1669.5" y="813.5" width="2" height="3" fill="#ff8080" stroke="#f00"/><path d="M1672.5 814V816" stroke="#f00"/><rect x="1671.5" y="814.5" width="2" height="2" fill="#ff8080" stroke="#f00"/><path d="M1676.5 822V825" stroke="#000"/><rect x="1675.5" y="823.5" width="2" height="2" fill="#fff" stroke="#000"/><path d="M1677.5 817V819" stroke="#000"/><rect x="1676.5" y="818.5" width="2" height="1" fill="#fff" stroke="#000"/><path d="M1679.5 817V820" stroke="#f00"/><rect x="1678.5" y="817.5" width="2" height="3" fill="#ff8080" stroke="#f00"/><path d="M1681.5 820V822" stroke="#f00"/><rect x="1680.5" y="820.5" width="2" height="2" fill="#ff8080" stroke="#f00"/><path d="M1683.5 822V825" stroke="#f00"/><rect x="1682.5" y="823.5" width="2" height="2" fill="#ff8080" stroke="#f00"/><path d="M1686.5 814V817" stroke="#000"/><rect x="1685.5" y="815.5" width="2" height="2" fill="#fff" stroke="#000"/><path d="M1688.5 816V818" stroke="#f00"/><rect x="1687.5" y="816.5" width="2" height="2" fill="#ff8080" stroke="#f00"/><path d="M1690.5 814V821" stroke="#000"/><rect x="1689.5" y="815.5" width="2" height="5" fill="#fff" stroke="#000"/><path d="M1692.5 812V817" stroke="#f00"/><rect x="1691.5" y="815.5" width="2" height="2" fill="#ff8080" stroke="#f00"/><path d="M1694.5 815V821" stroke="#f00"/><rect x="1693.5" y="816.5" width="2" height="5" fill="#ff8080" stroke="#f00"/><path d="M1697.5 815V819" stroke="#000"/><rect x="1696.5" y="816.5" width="2" height="1" fill="#fff" stroke="#000"/><path d="M1700.5 814V817" stroke="#000"/><rect x="1699.5" y="815.5" width="2" height="2" fill="#fff" stroke="#000"/><path d="M1702.5 803V810" stroke="#000"/><rect x="1701.5" y="804.5" width="2" height="6" fill="#fff" stroke="#000"/><path d="M1704.5 791V806" stroke="#000"/><rect x="1703.5" y="800.5" width="2" height="6" fill="#fff" stroke="#000"/><path d="M1705.5 785V793" stroke="#000"/><rect x="1704.5" y="786.5" width="2" height="7" fill="#fff" stroke="#000"/><path d="M1707.5 783V789" stroke="#f00"/><rect x="1706.5" y="783.5" width="2" height="6" fill="#ff8080" stroke="#f00"/><path d="M1711.5 792V794" stroke="#000"/><rect x="1710.5" y="792.5" width="2" height="2" fill="#fff" stroke="#000"/><path d="M1713.5 784V802" stroke="#000"/><rect x="1712.5" y="786.5" width="2" height="6" fill="#fff" stroke="#000"/><path d="M1715.5 784V792" stroke="#000"/><rect x="1714.5" y="788.5" width="2" height="4" fill="#fff" stroke="#000"/><path d="M1717.5 777V786" stroke="#f00"/><rect x="1716.5" y="780.5" width="2" height="6" fill="#ff8080" stroke="#f00"/><path d="M1719.5 769V775" stroke="#000"/><rect x="1718.5" y="774.5" width="2" height="1" fill="#fff" stroke="#000"/><path d="M1722.5 775V778" stroke="#f00"/><rect x="1721.5" y="775.5" width="2" height="3" fill="#ff8080" stroke="#f00"/><path d="M1724.5 777V787" stroke="#f00"/><rect x="1723.5" y="778.5" width="2" height="9" fill="#ff8080" stroke="#f00"/><path d="M1726.5 787V798" stroke="#000"/><rect x="1725.5" y="788.5" width="2" height="4" fill="#fff" stroke="#000"/><path d="M1729.5 780V791" stroke="#f00"/><rect x="1728.5" y="782.5" width="2" height="9" fill="#ff8080" stroke="#f00"/><path d="M1731.5 785V796" stroke="#f00"/><rect x="1730.5" y="786.5" width="2" height="10" fill="#ff8080" stroke="#f00"/><path d="M1734.5 794V799" stroke="#f00"/><rect x="1733.5" y="794.5" width="2" height="5" fill="#ff8080" stroke="#f00"/><path d="M1737.5 794V801" stroke="#f00"/><rect x="1736.5" y="794.5" width="2" height="7" fill="#ff8080" stroke="#f00"/><path d="M1738.5 803V807" stroke="#000"/><rect x="1737.5" y="803.5" width="2" height="4" fill="#fff" stroke="#000"/><path d="M1740.5 801V802" stroke="#000"/><rect x="1739.5" y="801.5" width="2" height="1" fill="#fff" stroke="#000"/><path d="M1743.5 790V802" stroke="#000"/><rect x="1742.5" y="794.5" width="2" height="8" fill="#fff" stroke="#000"/><path d="M1746.5 788V789" stroke="#000"/><rect x="1745.5" y="788.5" width="2" height="1" fill="#fff" stroke="#000"/><path d="M1747.5 780V785" stroke="#000"/><rect x="1746.5" y="780.5" width="2" height="5" fill="#fff" stroke="#000"/><path d="M1750.5 778V783" stroke="#f00"/><rect x="1749.5" y="780.5" width="2" height="3" fill="#ff8080" stroke="#f00"/><path d="M1751.5 782V788" stroke="#000"/><rect x="1750.5" y="782.5" width="2" height="6" fill="#fff" stroke="#000"/><path d="M1753.5 775V780" stroke="#000"/><rect x="1752.5" y="777.5" width="2" height="1" fill="#fff" stroke="#000"/><path d="M1757.5 771V786" stroke="#f00"/><rect x="1756.5" y="771.5" width="2" height="15" fill="#ff8080" stroke="#f00"/><path d="M1759.5 783V790" stroke="#f00"/><rect x="1758.5" y="783.5" width="2" height="7" fill="#ff8080" stroke="#f00"/><path d="M1761.5 773V782" stroke="#000"/><rect x="1760.5" y="778.5" width="2" height="4" fill="#fff" stroke="#000"/><path d="M1763.5 772V786" stroke="#f00"/><rect x="1762.5" y="775.5" width="2" height="11" fill="#ff8080" stroke="#f00"/></g>
<path d="M1763 784.5H1790" stroke="#000" stroke-width="1"/>
<path d="M744.3 359.5L995.1 153M744.3 628.2L995.1 422M676.3 576.1L760.8 564.3M676.3 631L760.8 619.2" stroke="#0a8a0a" stroke-width="1" fill="none"/>
<path d="M1837.5 0V948" stroke="#c0c0c0" stroke-width="1"/>
<path d="M0 839.5H1916M0 932.5H1916" stroke="#c0c0c0" stroke-width="1"/>
<g font-family="Liberation Sans, sans-serif" font-size="12" fill="#000"><text x="1843.5" y="21.0">1.500</text><text x="1843.5" y="82.0">1.400</text><text x="1843.5" y="142.0">1.300</text><text x="1843.5" y="203.0">1.200</text><text x="1843.5" y="264.0">1.100</text><text x="1843.5" y="325.0">1.000</text><text x="1843.5" y="386.0">0.900</text><text x="1843.5" y="447.0">0.800</text><text x="1843.5" y="508.0">0.700</text><text x="1843.5" y="569.0">0.600</text><text x="1843.5" y="629.0">0.500</text><text x="1843.5" y="690.0">0.400</text><text x="1843.5" y="751.0">0.300</text><text x="1843.5" y="812.0">0.200</text></g>
<rect x="1838" y="777" width="78" height="14" fill="#0000ff"/>
<text x="1843.5" y="788.8" font-family="Liberation Sans, sans-serif" font-size="12" fill="#fff">0.238</text>
<path d="M1838 784.5H1841" stroke="#fff"/>
<path d="M1837 16.5H1841M1837 77.5H1841M1837 137.5H1841M1837 198.5H1841M1837 259.5H1841M1837 320.5H1841M1837 381.5H1841M1837 442.5H1841M1837 503.5H1841M1837 564.5H1841M1837 624.5H1841M1837 685.5H1841M1837 746.5H1841M1837 807.5H1841" stroke="#c0c0c0"/>
<rect x="1906.5" y="17.5" width="8" height="8" fill="#fff" stroke="#c0c0c0"/><path d="M1908 21.5H1913" stroke="#c0c0c0"/>
<path d="M5 860.5H1837M5 885.5H1837M5 911.5H1837" stroke="#000" stroke-width="1"/>
<polyline points="40.4,875.7 45.7,859.1 50,851 55,850 62.3,858.2 66.4,865 71.7,872.1 77.1,869 79.8,868.6 83,869 88.8,872.6 93.3,877.1 97.3,884.3 101.3,898.6 107.6,913.9 110.3,915.2 116.6,912.1 120.2,905.8 125.6,883.4 129.1,875.3 132.7,873.5 136.8,876.2 139.9,877.5 144.4,882.5 148.9,900.4 155.2,914.7 160.5,915.2 165.9,909.4 170,890.5 174.9,861 180.2,850.6 184.7,862.7 191.9,877.5 201.8,861.8 209.4,855.1 213.9,858.2 219.7,867.2 227.8,868.6 233.2,886 237.6,893.2 243,907.6 249.8,914.7 254.7,911.2 260.1,901.3 264.6,879.8 269,863.6 273.1,859.6 275.3,860.9 279.8,868.1 284.3,877.1 288.8,894.1 292.4,912.1 297.7,918.3 303.1,917.4 310.3,913.9 317.5,885.2 324.6,858.2 330.9,849.7 335,850.2 342.6,860.9 348.8,860.9 358.7,857.3 363.2,853.3 368.6,851.5 373,858.2 378.4,867.2 383.8,862.7 390.1,862.3 395.9,886 401.7,911.2 409.4,925.1 416.1,916.5 422.4,884.3 430,870.4 437.2,882 443.9,904.9 449.3,900.4 457.8,870.8 462.3,870.4 468.1,875.3 473.5,885.2 481.6,917.4 486.1,919.2 494.1,910.3 500,910.3 505.8,917.4 512,917.4 521,902.2 524.6,884.3 529.1,867.2 533.1,863.6 537.2,872.6 541.6,889.6 548.8,913 557.8,922.4 562.3,921 568.5,913.9 574.8,887 580.2,879.8 585.6,880.2 593.7,871.7 602.6,863.6 607.1,867.2 615.2,883.4 625,909.4 634.9,921.5 641.2,917.4 647.5,904 652,893.7 656.4,900.4 660,913.4 665,919.2 667.2,921.5 672.6,917.4 680.6,902.2 684.7,902.6 690.5,908.9 695.4,913.4 699.9,914.3 708.4,898.6 714.7,882.5 724.1,899.1 730.9,884.7 735.8,872.1 739.8,880.7 752.4,915.2 756,911.2 764,872.6 769.4,862.7 776.6,859.1 786.5,850.6 791.8,849.7 799.9,860 805.3,875.3 812.5,909.4 819.6,918.3 826.8,901.3 830,883.4 835.8,859.1 839.8,859.1 845.2,869 854.6,899.1 865.4,872.1 869,877.1 878.8,903.1 888.7,895 893.2,902.2 902.1,917.4 908.4,900.4 916.5,866.3 923.7,860 929,852 934.4,848.8 942.5,850.2 952.4,854.7 958.6,859.6 962.2,867.2 969.4,869.9 976.6,859.1 981,862.7 986.4,887.8 991.8,907.6 995,908.5 995.8,909.4 1000.8,902.6 1004.3,902.6 1012.4,912.1 1017.8,914.7 1025.9,921.9 1029.5,921.9 1037.5,912.1 1047.4,891.4 1054.6,886 1061.7,895.9 1068.9,909.4 1076.1,893.2 1079.7,873.5 1086.4,864.1 1091.3,869.9 1097.6,886 1102.1,895.9 1109.3,899.5 1114.7,913 1120.9,919.7 1126.3,916.1 1133.5,907.1 1142.5,896.8 1151.4,901.7 1155.9,897.7 1160,887.8 1164.9,871.7 1171.6,863.2 1181,884.3 1188.2,901.3 1192.7,908.5 1198,910.7 1205.2,902.2 1216,886 1222.3,860.9 1227.6,851.5 1231.2,858.2 1237.5,885.2 1245.6,921.9 1253.7,919.2 1258.1,906.7 1264.4,896.8 1268,896.8 1275.2,889.6 1278.8,879.8 1282.4,876.2 1287.7,884.3 1294,911.2 1300.3,916.5 1307.5,913 1314.6,905.3 1320,908.5 1325,915.6 1330.8,919.2 1338.8,916.5 1346.9,884.3 1353.2,864.1 1361.3,872.6 1368.4,864.5 1372.9,858.2 1381.9,858.7 1387.3,856 1392.6,865.4 1398.9,887.8 1412.4,911.6 1416,911.6 1431.2,887 1441.1,904.4 1450.9,885.2 1454.5,887 1465.3,916.1 1475.2,912.1 1483.2,915.2 1490,908.5 1495.8,896.4 1498.5,897.3 1508.3,915.2 1514.6,913 1523.6,912.5 1530.7,916.5 1537,917.4 1544.2,912.5 1554.1,884.3 1558.5,888.7 1563.9,909.4 1569.8,918.3 1578.3,900.4 1585.4,887.8 1592.6,876.2 1599.3,859.1 1604.3,865.4 1612.4,886 1623.1,869 1628.5,873.5 1636.6,898.6 1641.1,902.2 1646.4,912.1 1652.7,917.9 1655,916.5 1659,906.7 1665.7,895 1670.6,902.2 1676.9,919.2 1684.1,916.5 1690.4,905.8 1694.8,888.7 1700.2,875.3 1707.4,862.7 1714.6,855.1 1721.7,856.5 1728,865.4 1742.4,914.7 1746,911.2 1753.1,872.6 1759.9,859.1 1766.6,875.3 1770.2,881.6 1773.8,891.4 1779.1,898.6 1784.1,902.2 1787.2,908.5" stroke="#ff0000" fill="none" stroke-width="1"/>
<polyline points="31.4,894.6 39.9,859.6 47,849 53,850 58.7,857.3 61.9,869 64.6,871.3 70.9,873.5 72.2,869.5 74,865.4 76.2,867.7 78.9,869.9 81.6,870.4 84.3,873 88.3,874.8 90.6,879.8 94.2,885.2 96.9,895 100.4,912 103.6,917.4 107.6,914.3 114.8,911.6 117.5,904.9 122,881.6 122.9,870.8 125.1,866.8 128.3,874 130.9,878.9 132.7,877.5 134.1,873.5 139,878 144.4,896.8 146.2,912 152.5,916.1 157.8,914.7 163.2,905.8 167.7,882.5 169.5,862.7 170.8,854.2 173.5,846.1 178.5,850.2 182.9,869 187,882.5 189.7,882.5 191.9,876.2 193.7,865.4 195.9,862.3 200.9,856 204.5,857.3 208.5,852 213.4,864.5 216.1,873.5 218.8,869.9 221.5,858.2 224.6,864.5 226.9,877.1 231.4,888.7 233.2,899.5 237.6,899.5 241.2,913 246.2,916.5 251.1,912.1 256.5,900.4 263.7,863.6 267.2,854.2 270.4,860.9 275.3,869.9 280.2,873.5 284.3,893.2 287,911.2 291.5,920.1 295,919.7 299.1,916.5 301.8,916.5 308.5,914.7 313.9,884.3 319.3,860.9 323.3,850.6 328.7,845.7 333.6,856.5 335,856.5 342.6,866.3 346.6,855.6 348.8,860 352,857.3 356.9,857.3 363.2,848.4 368.6,852.4 374.4,873.5 378.9,865.4 382,854.2 387,863.2 391.9,886 398.2,914.7 401.7,925.1 408.9,922.8 414.3,907.6 418.8,883.4 422.4,866.8 428.2,871.3 432.2,880.7 440.3,909.4 443.9,902.2 448.4,881.6 454.7,866.3 462.7,876.2 468.6,875.3 472.6,893.2 477.5,924.2 482.5,918.3 491.9,907.1 495.9,910.7 500,914.7 503.5,922.4 505.8,919.2 508.9,918.3 513.4,911.2 516.5,898.6 521,883.4 522.8,869.9 525,859.1 526.8,858.2 532.7,868.6 536.3,878.9 539,896.8 543.4,911.2 547.9,921 552.4,923.3 556.9,921.9 561.4,920.1 566.7,904.9 571.2,881.6 573.9,874.4 580.6,886.5 582,881.6 589.2,869.5 596.3,866.8 599.5,858.7 602.2,860 606.2,873.5 610.7,885.2 613.4,887.8 618.8,900.4 622.4,916.5 625.9,921 628.6,920.1 634.9,922.4 638.5,917.4 643.9,896.8 648.4,883.4 652.8,900.4 659.1,923.3 664,919.2 665,919.2 668.1,919.2 670.8,911.2 675.7,901.3 679.3,899.1 682,905.8 685.6,910.7 689.6,910.7 693.6,916.1 696.8,916.1 700.4,911.2 706.6,885.2 711.6,878.4 713.8,880.7 718.3,904 720.5,906.2 723.2,902.2 728.2,869.5 733.5,867.2 738,885.2 745.2,917.4 751.9,912.1 757.3,883.4 763.1,858.7 767.2,861.8 772.1,858.7 776.6,855.1 782,849.7 790.5,848.8 797.2,860 807.1,904.9 811.6,920.1 819.6,917.4 825,885.2 829.5,859.1 831.7,855.6 836.7,860.5 840.7,864.1 851.5,910.7 856.4,879.8 860,866.8 863.1,865 864.5,873.9 873.9,907.6 878.8,901.3 886,889.2 892.3,912.1 896.7,921.9 901.2,915.6 906.6,887.8 912.4,859.6 916.9,864.1 921.4,859.6 925.4,847 932.2,849.3 938.5,847 940.7,855.1 944.3,853.3 950.6,857.3 955,860.9 958.6,862.7 960.9,875.7 964.9,867.7 969.4,867.2 973.4,850.6 977.5,860.5 982.8,889.6 988.2,914.7 990,911.2 991.8,908.5 994.5,904 999,898.2 1008.4,915.2 1012.4,912.1 1016.9,914.7 1021.4,924.2 1026.8,924.2 1032.2,912.1 1036.6,904 1039.3,893.7 1043.4,895 1046.1,886 1050.1,887 1054.1,884.7 1058.2,900.4 1063.5,912.5 1067.6,912.1 1073.4,883.4 1078.3,860.9 1081,864.5 1086,864.5 1091.8,880.7 1093.6,893.2 1097.2,900.4 1099.9,893.7 1104.8,898.6 1110.2,909.4 1112.9,918.8 1118.3,921.5 1121.8,918.3 1127.2,908.5 1129.9,903.1 1134.4,901.3 1138.9,893.7 1146.5,905.3 1151.4,898.2 1156.8,887.8 1160,876.2 1163.1,863.6 1168.5,860.9 1170.7,862.3 1176.5,887.8 1181.9,896.8 1184.6,904.9 1188.2,907.6 1192.7,914.3 1200.7,897.7 1205.2,893.2 1213.3,881.6 1216.9,871.7 1219.6,850.2 1222.7,845.2 1226.7,852 1230.3,872.6 1233,891.4 1237.5,911.2 1240.2,921 1244.7,924.2 1249.2,919.2 1252.8,915.6 1255,898.6 1256.3,897.3 1260.4,898.6 1264.4,894.6 1266.7,901.3 1271.6,887.8 1275.2,878.9 1277.4,868.6 1280.6,872.6 1282.8,884.3 1287.7,911.2 1290.4,916.5 1293.6,915.2 1299.4,918.3 1305.7,907.6 1311.1,903.5 1319.1,912.5 1323.6,922.8 1327.2,918.3 1330.8,917.4 1336.1,917.4 1338.8,911.2 1342.4,878.9 1344.7,868.1 1347.4,857.8 1350.5,866.3 1353.6,873.5 1356.8,875.3 1360.4,872.6 1364.4,856.5 1367.5,856.5 1369.8,860 1372,858.2 1377.4,858.7 1381.9,855.6 1386.4,855.6 1391.7,872.6 1397.1,896.8 1400.7,898.6 1406.1,911.2 1409.7,913.4 1417.8,900.4 1421.3,895 1427.6,883.4 1431.2,887.8 1433.9,909.4 1436.6,913.9 1442,890.5 1446.5,880.7 1450,886 1457.2,911.2 1462.6,919.2 1470.7,910.3 1479.6,917.4 1485.9,910.3 1490,896.8 1493.5,890.5 1496.2,896.8 1498.5,911.2 1500.7,917.4 1502,914.3 1506.5,914.7 1511,912.1 1515.5,910.7 1519.1,913.4 1523.6,913.4 1528.9,918.3 1533.4,915.2 1536.1,917.4 1538.8,912.1 1542.4,911.2 1545.1,901.3 1547.3,881.6 1550.5,876.6 1553.2,884.3 1556.7,900.4 1561.2,920.1 1567.5,918.3 1571.1,913.9 1574.7,900.4 1578.3,887.4 1583.7,889.2 1587.2,880.7 1590.8,867.2 1594.4,855.1 1597.6,858.2 1603.4,869.9 1607.4,889.2 1611.5,890.1 1614.6,880.7 1618.6,858.2 1621.3,868.1 1625.8,882.5 1629.4,896.8 1635.7,904.4 1637.5,900.8 1641.1,905.8 1644.6,919.2 1650,919.2 1653.6,915.6 1655,912.1 1656.3,901.3 1657.6,896.8 1659.9,892.8 1663,890.1 1664.8,893.2 1667,901.3 1668.4,916.5 1670.2,919.2 1675.6,921.5 1677.8,918.3 1680.9,914.7 1685,911.2 1688.6,900.4 1692.2,878.9 1693.9,872.6 1697.1,873 1701.1,865.9 1703.8,864.1 1705.2,854.7 1707.4,854.2 1711.9,856.5 1716.4,858.2 1721.7,857.3 1724.4,860.9 1728.9,884.3 1732.5,896.8 1736.1,913.9 1740.6,919.2 1746.9,887.8 1750.4,867.2 1753.1,851.5 1756.7,855.6 1758.1,864.1 1764.8,884.3 1769.3,887.8 1771.5,897.7 1775.6,897.7 1781.8,904 1784.5,908.5 1787.2,916.1" stroke="#000" fill="none" stroke-width="1"/>
<g font-family="Liberation Sans, sans-serif" font-size="12" fill="#000"><text x="816" y="858.8">80.000</text><text x="1182.5" y="883.8">50.000</text><text x="1548.5" y="909.7">20.000</text></g>
<g font-family="Liberation Sans, sans-serif" font-size="12" fill="#000"><text x="1843.5" y="868.8">75.00</text><text x="1843.5" y="889.6">50.00</text></g>
<rect x="1838" y="898" width="78" height="14" fill="#ff0000"/>
<rect x="1838" y="913" width="78" height="14" fill="#000"/>
<g font-family="Liberation Sans, sans-serif" font-size="12" fill="#fff"><text x="1843.5" y="909.6">21.633</text><text x="1843.5" y="924.5">13.636</text></g>
<path d="M1838 905.5H1841M1838 920.5H1841" stroke="#fff"/><path d="M1838 928.5H1841M1837 864.5H1841M1837 885.5H1841" stroke="#c0c0c0"/>
<rect x="5.5" y="844.5" width="47" height="14" fill="#fff" stroke="#000"/>
<text x="8.4" y="855.9" font-family="Liberation Sans, sans-serif" font-size="12" fill="#000">Sto(9/5)</text>
<rect x="55.5" y="845.5" width="12" height="12" fill="#fff" stroke="#000"/><path d="M57 851.5H66M61.5 847V856" stroke="#000" stroke-width="2"/>
<rect x="8" y="861" width="20" height="11" fill="#fff"/><rect x="8" y="876" width="21" height="11" fill="#fff"/>
<text x="8.4" y="870.7" font-family="Liberation Sans, sans-serif" font-size="12" fill="#000">%K</text>
<text x="8.4" y="885.8" font-family="Liberation Sans, sans-serif" font-size="12" fill="#ff0000">%D</text>
<path d="M121.5 933V948M169.5 933V948M215.5 933V948M263.5 933V948M309.5 933V948M355.5 933V948M398.5 933V948M449.5 933V948M488.5 933V948M536.5 933V948M584.5 933V948M630.5 933V948M680.5 933V948M726.5 933V948M774.5 933V948M822.5 933V948M864.5 933V948M912.5 933V948M958.5 933V948M1002.5 933V948M1047.5 933V948M1096.5 933V948M1139.5 933V948M1189.5 933V948M1238.5 933V948M1283.5 933V948M1334.5 933V948M1380.5 933V948M1421.5 933V948M1469.5 933V948M1513.5 933V948M1559.5 933V948M1603.5 933V948M1646.5 933V948M1690.5 933V948M1740.5 933V948M1784.5 933V948M1822.5 933V948" stroke="#c0c0c0" stroke-width="1"/>
<g font-family="Liberation Sans, sans-serif" font-size="12" fill="#000"><text x="11.5" y="945">04.09.25</text><text x="83" y="945">2</text><text x="120.4" y="945" text-anchor="end">09</text><text x="122.6" y="945">22</text><text x="168.4" y="945" text-anchor="end">10</text><text x="170.6" y="945">22</text><text x="214.5" y="945" text-anchor="end">11</text><text x="216.7" y="945">22</text><text x="262.4" y="945" text-anchor="end">12</text><text x="264.6" y="945">22</text><text x="308.3" y="945" text-anchor="end">01</text><text x="310.5" y="945">23</text><text x="354.5" y="945" text-anchor="end">02</text><text x="356.7" y="945">23</text><text x="397.8" y="945" text-anchor="end">03</text><text x="400.0" y="945">23</text><text x="448.5" y="945" text-anchor="end">04</text><text x="450.7" y="945">23</text><text x="487.5" y="945" text-anchor="end">05</text><text x="489.7" y="945">23</text><text x="535.4" y="945" text-anchor="end">06</text><text x="537.6" y="945">23</text><text x="583.4" y="945" text-anchor="end">07</text><text x="585.6" y="945">23</text><text x="629.4" y="945" text-anchor="end">08</text><text x="631.6" y="945">23</text><text x="679.5" y="945" text-anchor="end">09</text><text x="681.7" y="945">23</text><text x="725.3" y="945" text-anchor="end">10</text><text x="727.5" y="945">23</text><text x="773.5" y="945" text-anchor="end">11</text><text x="775.7" y="945">23</text><text x="821.5" y="945" text-anchor="end">12</text><text x="823.7" y="945">23</text><text x="863.7" y="945" text-anchor="end">01</text><text x="865.9" y="945">24</text><text x="911.4" y="945" text-anchor="end">02</text><text x="913.6" y="945">24</text><text x="957.5" y="945" text-anchor="end">03</text><text x="959.7" y="945">24</text><text x="1001.6" y="945" text-anchor="end">04</text><text x="1003.8" y="945">24</text><text x="1046.5" y="945" text-anchor="end">05</text><text x="1048.7" y="945">24</text><text x="1095.6" y="945" text-anchor="end">06</text><text x="1097.8" y="945">24</text><text x="1138.6" y="945" text-anchor="end">07</text><text x="1140.8" y="945">24</text><text x="1188.7" y="945" text-anchor="end">08</text><text x="1190.9" y="945">24</text><text x="1237.6" y="945" text-anchor="end">09</text><text x="1239.8" y="945">24</text><text x="1282.6" y="945" text-anchor="end">10</text><text x="1284.8" y="945">24</text><text x="1333.5" y="945" text-anchor="end">11</text><text x="1335.7" y="945">24</text><text x="1379.5" y="945" text-anchor="end">12</text><text x="1381.7" y="945">24</text><text x="1420.6" y="945" text-anchor="end">01</text><text x="1422.8" y="945">25</text><text x="1468.4" y="945" text-anchor="end">02</text><text x="1470.6" y="945">25</text><text x="1512.7" y="945" text-anchor="end">03</text><text x="1514.9" y="945">25</text><text x="1558.7" y="945" text-anchor="end">04</text><text x="1560.9" y="945">25</text><text x="1602.5" y="945" text-anchor="end">05</text><text x="1604.7" y="945">25</text><text x="1645.5" y="945" text-anchor="end">06</text><text x="1647.7" y="945">25</text><text x="1689.7" y="945" text-anchor="end">07</text><text x="1691.9" y="945">25</text><text x="1739.3" y="945" text-anchor="end">08</text><text x="1741.5" y="945">25</text><text x="1783.4" y="945" text-anchor="end">09</text><text x="1785.6" y="945">25</text><text x="1829" y="945">-</text></g>
<path d="M0 0.5H1916M0.5 0V838M0.5 840V948M1915.5 0V948M0 947.5H1916" stroke="#000" stroke-width="1"/>
<path d="M1784.5 1H1792.5L1788.5 5Z" fill="#22cc22"/>
<text x="236.4" y="23.8" font-family="Liberation Sans, sans-serif" font-size="13.5" font-weight="bold" fill="#000" textLength="146" lengthAdjust="spacingAndGlyphs">Polygon (MATIC) USD</text>
<text x="493" y="24" font-family="Liberation Serif, serif" font-size="13" fill="#000" textLength="1103" lengthAdjust="spacingAndGlyphs">Haftungsausschluss für Inhalte: Alle Trendkanäle bzw. andere Linien, oder Grafiken hier sind keine Empfehlungen, oder Beratung, sondern die zeigen lediglich meine eigene Einschätzung. Alle Chartdaten sind ohne Gewähr.&#160;&#160;www.wikifolio.com/de/de/p/cyberwaehrungen</text>
<text x="356" y="820" font-family="Liberation Sans, sans-serif" font-size="12" fill="#10108c" textLength="929" lengthAdjust="spacingAndGlyphs">- Stochastik-Oszillator - Ein Indikator, für erfahrene viel-Trader, schwankt zwischen Null und 100. Seine überverkaufte Zone, liegt unter 20 und die überkaufte Zone, über 80.</text>
</svg></body></html>
